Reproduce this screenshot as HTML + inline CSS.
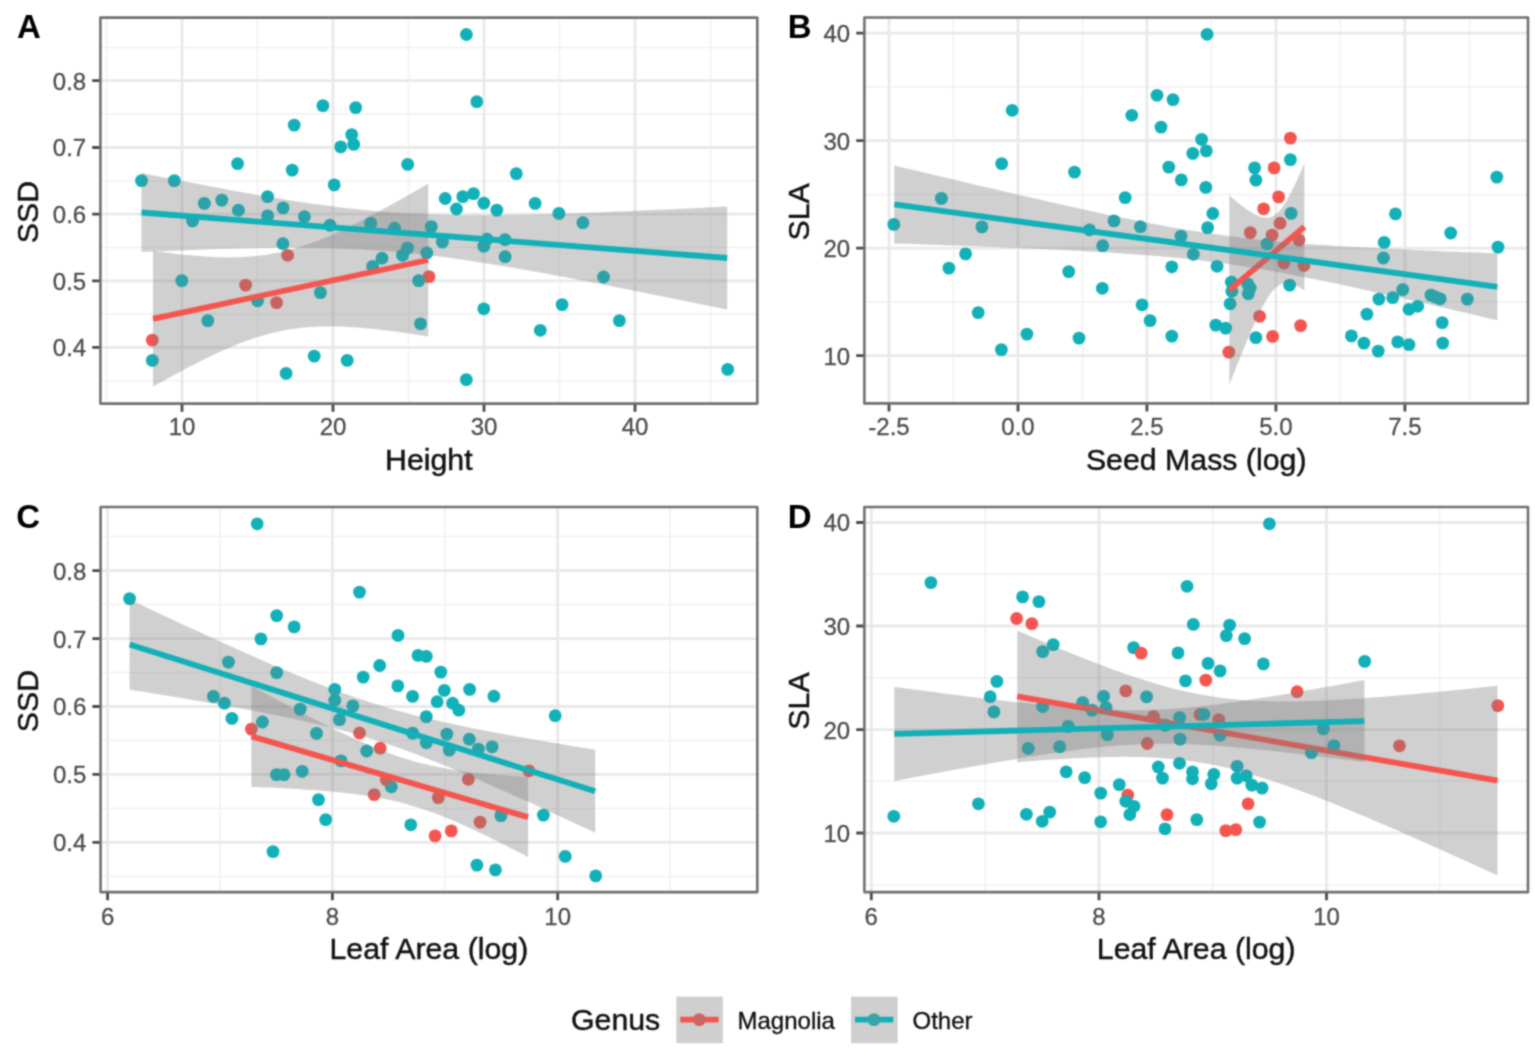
<!DOCTYPE html>
<html lang="en"><head><meta charset="utf-8"><title>Trait relationships by genus</title>
<style>
html,body{margin:0;padding:0;background:#fff;}
svg{display:block;}
text{font-family:"Liberation Sans", Arial, Helvetica, sans-serif;}
.tk{font-size:24px;fill:#4d4d4d;stroke:#4d4d4d;stroke-width:0.3px;}
.ti{font-size:30.3px;fill:#111;stroke:#111;stroke-width:0.45px;}
.tg{font-size:33px;font-weight:bold;fill:#000;}
.lg{font-size:24px;fill:#111;stroke:#111;stroke-width:0.35px;}
</style></head><body>
<svg width="1535" height="1058" viewBox="0 0 1535 1058">

<defs><filter id="soft" x="0" y="0" width="1535" height="1058" filterUnits="userSpaceOnUse" color-interpolation-filters="sRGB"><feConvolveMatrix order="5" kernelMatrix="0.00009 0.00198 0.00548 0.00198 0.00009 0.00198 0.04220 0.11707 0.04220 0.00198 0.00548 0.11707 0.32480 0.11707 0.00548 0.00198 0.04220 0.11707 0.04220 0.00198 0.00009 0.00198 0.00548 0.00198 0.00009" edgeMode="duplicate" preserveAlpha="true"/></filter></defs>
<g filter="url(#soft)">
<rect width="1535" height="1058" fill="#fff"/>
<g id="panelA">
<clipPath id="clipA"><rect x="100.4" y="17.6" width="656.9" height="386.0"/></clipPath>
<g clip-path="url(#clipA)">
<path d="M100.4,47.4H757.3M100.4,114.1H757.3M100.4,180.8H757.3M100.4,247.5H757.3M100.4,314.1H757.3M100.4,380.7H757.3M106.5,17.6V403.6M257.5,17.6V403.6M408.5,17.6V403.6M559.5,17.6V403.6M710.5,17.6V403.6" stroke="#f1f1f1" stroke-width="1.5" fill="none"/>
<path d="M100.4,80.7H757.3M100.4,147.5H757.3M100.4,214.2H757.3M100.4,280.8H757.3M100.4,347.4H757.3M182,17.6V403.6M333,17.6V403.6M484,17.6V403.6M635,17.6V403.6" stroke="#e9e9e9" stroke-width="2.8" fill="none"/>
<g fill="#f4554f"></g>
<g fill="#12b0b8"><circle cx="141.5" cy="180.6" r="6.4"/><circle cx="174.3" cy="180.6" r="6.4"/><circle cx="237.6" cy="163.6" r="6.4"/><circle cx="294.2" cy="125.1" r="6.4"/><circle cx="322.9" cy="105.6" r="6.4"/><circle cx="355.7" cy="107.6" r="6.4"/><circle cx="351.7" cy="134.6" r="6.4"/><circle cx="353.7" cy="144.4" r="6.4"/><circle cx="340.7" cy="146.9" r="6.4"/><circle cx="292.2" cy="170.1" r="6.4"/><circle cx="334.2" cy="184.9" r="6.4"/><circle cx="407.7" cy="164.4" r="6.4"/><circle cx="466.4" cy="34.5" r="6.4"/><circle cx="476.8" cy="101.7" r="6.4"/><circle cx="204.3" cy="203.4" r="6.4"/><circle cx="221.8" cy="200.1" r="6.4"/><circle cx="238.4" cy="210.2" r="6.4"/><circle cx="192.6" cy="220.9" r="6.4"/><circle cx="267.6" cy="196.6" r="6.4"/><circle cx="267.6" cy="215.9" r="6.4"/><circle cx="283.1" cy="207.9" r="6.4"/><circle cx="304.4" cy="216.7" r="6.4"/><circle cx="329.9" cy="225.2" r="6.4"/><circle cx="282.9" cy="243.7" r="6.4"/><circle cx="370.7" cy="223.2" r="6.4"/><circle cx="394.5" cy="228.2" r="6.4"/><circle cx="431.3" cy="226.6" r="6.4"/><circle cx="445.2" cy="198.5" r="6.4"/><circle cx="456.5" cy="209.0" r="6.4"/><circle cx="462.8" cy="196.6" r="6.4"/><circle cx="473.5" cy="193.6" r="6.4"/><circle cx="442.4" cy="242.0" r="6.4"/><circle cx="426.8" cy="253.0" r="6.4"/><circle cx="407.5" cy="248.1" r="6.4"/><circle cx="402.5" cy="255.3" r="6.4"/><circle cx="382.0" cy="258.2" r="6.4"/><circle cx="372.7" cy="266.3" r="6.4"/><circle cx="181.8" cy="280.6" r="6.4"/><circle cx="207.8" cy="320.6" r="6.4"/><circle cx="257.6" cy="300.8" r="6.4"/><circle cx="320.4" cy="292.6" r="6.4"/><circle cx="418.7" cy="280.6" r="6.4"/><circle cx="420.5" cy="323.8" r="6.4"/><circle cx="152.3" cy="360.4" r="6.4"/><circle cx="286.1" cy="373.4" r="6.4"/><circle cx="314.2" cy="356.1" r="6.4"/><circle cx="347.2" cy="360.4" r="6.4"/><circle cx="466.3" cy="379.6" r="6.4"/><circle cx="516.3" cy="173.6" r="6.4"/><circle cx="483.8" cy="203.1" r="6.4"/><circle cx="496.8" cy="210.1" r="6.4"/><circle cx="535.1" cy="203.4" r="6.4"/><circle cx="558.9" cy="213.4" r="6.4"/><circle cx="582.9" cy="222.7" r="6.4"/><circle cx="487.0" cy="239.2" r="6.4"/><circle cx="505.1" cy="239.7" r="6.4"/><circle cx="483.8" cy="246.2" r="6.4"/><circle cx="505.1" cy="256.7" r="6.4"/><circle cx="603.6" cy="277.0" r="6.4"/><circle cx="483.8" cy="308.8" r="6.4"/><circle cx="562.1" cy="304.6" r="6.4"/><circle cx="619.4" cy="320.6" r="6.4"/><circle cx="540.3" cy="330.3" r="6.4"/><circle cx="727.7" cy="369.4" r="6.4"/></g>
<g fill="#f4554f"><circle cx="287.6" cy="255.3" r="6.4"/><circle cx="245.6" cy="285.1" r="6.4"/><circle cx="276.6" cy="302.6" r="6.4"/><circle cx="152.3" cy="340.1" r="6.4"/><circle cx="429.0" cy="276.6" r="6.4"/></g>
<clipPath id="rcAmag"><path d="M153.0,250.8 L157.7,251.5 L162.3,252.1 L167.0,252.7 L171.7,253.3 L176.3,253.9 L181.0,254.4 L185.7,254.9 L190.3,255.3 L195.0,255.8 L199.6,256.1 L204.3,256.5 L209.0,256.8 L213.6,257.0 L218.3,257.2 L223.0,257.3 L227.6,257.4 L232.3,257.3 L237.0,257.3 L241.6,257.1 L246.3,256.8 L251.0,256.5 L255.6,256.1 L260.3,255.5 L264.9,254.9 L269.6,254.2 L274.3,253.3 L278.9,252.4 L283.6,251.3 L288.3,250.2 L292.9,248.9 L297.6,247.6 L302.3,246.1 L306.9,244.6 L311.6,242.9 L316.3,241.2 L320.9,239.4 L325.6,237.4 L330.2,235.5 L334.9,233.4 L339.6,231.3 L344.2,229.2 L348.9,226.9 L353.6,224.6 L358.2,222.3 L362.9,219.9 L367.6,217.5 L372.2,215.1 L376.9,212.6 L381.6,210.1 L386.2,207.5 L390.9,204.9 L395.5,202.3 L400.2,199.7 L404.9,197.0 L409.5,194.4 L414.2,191.7 L418.9,189.0 L423.5,186.2 L428.2,183.5 L428.2,336.5 L423.5,335.7 L418.9,335.0 L414.2,334.3 L409.5,333.6 L404.9,332.9 L400.2,332.3 L395.5,331.6 L390.9,331.0 L386.2,330.4 L381.6,329.9 L376.9,329.3 L372.2,328.8 L367.6,328.4 L362.9,328.0 L358.2,327.6 L353.6,327.2 L348.9,327.0 L344.2,326.7 L339.6,326.6 L334.9,326.4 L330.2,326.4 L325.6,326.4 L320.9,326.5 L316.3,326.7 L311.6,326.9 L306.9,327.3 L302.3,327.7 L297.6,328.2 L292.9,328.9 L288.3,329.6 L283.6,330.4 L278.9,331.4 L274.3,332.4 L269.6,333.6 L264.9,334.9 L260.3,336.2 L255.6,337.7 L251.0,339.2 L246.3,340.9 L241.6,342.6 L237.0,344.5 L232.3,346.4 L227.6,348.3 L223.0,350.4 L218.3,352.5 L213.6,354.7 L209.0,356.9 L204.3,359.2 L199.6,361.5 L195.0,363.9 L190.3,366.3 L185.7,368.8 L181.0,371.3 L176.3,373.8 L171.7,376.3 L167.0,378.9 L162.3,381.5 L157.7,384.1 L153.0,386.8Z"/></clipPath><path d="M153.0,250.8 L157.7,251.5 L162.3,252.1 L167.0,252.7 L171.7,253.3 L176.3,253.9 L181.0,254.4 L185.7,254.9 L190.3,255.3 L195.0,255.8 L199.6,256.1 L204.3,256.5 L209.0,256.8 L213.6,257.0 L218.3,257.2 L223.0,257.3 L227.6,257.4 L232.3,257.3 L237.0,257.3 L241.6,257.1 L246.3,256.8 L251.0,256.5 L255.6,256.1 L260.3,255.5 L264.9,254.9 L269.6,254.2 L274.3,253.3 L278.9,252.4 L283.6,251.3 L288.3,250.2 L292.9,248.9 L297.6,247.6 L302.3,246.1 L306.9,244.6 L311.6,242.9 L316.3,241.2 L320.9,239.4 L325.6,237.4 L330.2,235.5 L334.9,233.4 L339.6,231.3 L344.2,229.2 L348.9,226.9 L353.6,224.6 L358.2,222.3 L362.9,219.9 L367.6,217.5 L372.2,215.1 L376.9,212.6 L381.6,210.1 L386.2,207.5 L390.9,204.9 L395.5,202.3 L400.2,199.7 L404.9,197.0 L409.5,194.4 L414.2,191.7 L418.9,189.0 L423.5,186.2 L428.2,183.5 L428.2,336.5 L423.5,335.7 L418.9,335.0 L414.2,334.3 L409.5,333.6 L404.9,332.9 L400.2,332.3 L395.5,331.6 L390.9,331.0 L386.2,330.4 L381.6,329.9 L376.9,329.3 L372.2,328.8 L367.6,328.4 L362.9,328.0 L358.2,327.6 L353.6,327.2 L348.9,327.0 L344.2,326.7 L339.6,326.6 L334.9,326.4 L330.2,326.4 L325.6,326.4 L320.9,326.5 L316.3,326.7 L311.6,326.9 L306.9,327.3 L302.3,327.7 L297.6,328.2 L292.9,328.9 L288.3,329.6 L283.6,330.4 L278.9,331.4 L274.3,332.4 L269.6,333.6 L264.9,334.9 L260.3,336.2 L255.6,337.7 L251.0,339.2 L246.3,340.9 L241.6,342.6 L237.0,344.5 L232.3,346.4 L227.6,348.3 L223.0,350.4 L218.3,352.5 L213.6,354.7 L209.0,356.9 L204.3,359.2 L199.6,361.5 L195.0,363.9 L190.3,366.3 L185.7,368.8 L181.0,371.3 L176.3,373.8 L171.7,376.3 L167.0,378.9 L162.3,381.5 L157.7,384.1 L153.0,386.8Z" fill="#7e7e7e" fill-opacity="0.36"/>
<g clip-path="url(#rcAmag)" fill="#12b0b8" opacity="0.3"><circle cx="141.5" cy="180.6" r="6.4"/><circle cx="174.3" cy="180.6" r="6.4"/><circle cx="237.6" cy="163.6" r="6.4"/><circle cx="294.2" cy="125.1" r="6.4"/><circle cx="322.9" cy="105.6" r="6.4"/><circle cx="355.7" cy="107.6" r="6.4"/><circle cx="351.7" cy="134.6" r="6.4"/><circle cx="353.7" cy="144.4" r="6.4"/><circle cx="340.7" cy="146.9" r="6.4"/><circle cx="292.2" cy="170.1" r="6.4"/><circle cx="334.2" cy="184.9" r="6.4"/><circle cx="407.7" cy="164.4" r="6.4"/><circle cx="466.4" cy="34.5" r="6.4"/><circle cx="476.8" cy="101.7" r="6.4"/><circle cx="204.3" cy="203.4" r="6.4"/><circle cx="221.8" cy="200.1" r="6.4"/><circle cx="238.4" cy="210.2" r="6.4"/><circle cx="192.6" cy="220.9" r="6.4"/><circle cx="267.6" cy="196.6" r="6.4"/><circle cx="267.6" cy="215.9" r="6.4"/><circle cx="283.1" cy="207.9" r="6.4"/><circle cx="304.4" cy="216.7" r="6.4"/><circle cx="329.9" cy="225.2" r="6.4"/><circle cx="282.9" cy="243.7" r="6.4"/><circle cx="370.7" cy="223.2" r="6.4"/><circle cx="394.5" cy="228.2" r="6.4"/><circle cx="431.3" cy="226.6" r="6.4"/><circle cx="445.2" cy="198.5" r="6.4"/><circle cx="456.5" cy="209.0" r="6.4"/><circle cx="462.8" cy="196.6" r="6.4"/><circle cx="473.5" cy="193.6" r="6.4"/><circle cx="442.4" cy="242.0" r="6.4"/><circle cx="426.8" cy="253.0" r="6.4"/><circle cx="407.5" cy="248.1" r="6.4"/><circle cx="402.5" cy="255.3" r="6.4"/><circle cx="382.0" cy="258.2" r="6.4"/><circle cx="372.7" cy="266.3" r="6.4"/><circle cx="181.8" cy="280.6" r="6.4"/><circle cx="207.8" cy="320.6" r="6.4"/><circle cx="257.6" cy="300.8" r="6.4"/><circle cx="320.4" cy="292.6" r="6.4"/><circle cx="418.7" cy="280.6" r="6.4"/><circle cx="420.5" cy="323.8" r="6.4"/><circle cx="152.3" cy="360.4" r="6.4"/><circle cx="286.1" cy="373.4" r="6.4"/><circle cx="314.2" cy="356.1" r="6.4"/><circle cx="347.2" cy="360.4" r="6.4"/><circle cx="466.3" cy="379.6" r="6.4"/><circle cx="516.3" cy="173.6" r="6.4"/><circle cx="483.8" cy="203.1" r="6.4"/><circle cx="496.8" cy="210.1" r="6.4"/><circle cx="535.1" cy="203.4" r="6.4"/><circle cx="558.9" cy="213.4" r="6.4"/><circle cx="582.9" cy="222.7" r="6.4"/><circle cx="487.0" cy="239.2" r="6.4"/><circle cx="505.1" cy="239.7" r="6.4"/><circle cx="483.8" cy="246.2" r="6.4"/><circle cx="505.1" cy="256.7" r="6.4"/><circle cx="603.6" cy="277.0" r="6.4"/><circle cx="483.8" cy="308.8" r="6.4"/><circle cx="562.1" cy="304.6" r="6.4"/><circle cx="619.4" cy="320.6" r="6.4"/><circle cx="540.3" cy="330.3" r="6.4"/><circle cx="727.7" cy="369.4" r="6.4"/></g>
<line x1="153" y1="318.8" x2="428.2" y2="260" stroke="#f4554f" stroke-width="5.8"/>
<clipPath id="rcAoth"><path d="M141.5,173.0 L151.4,174.9 L161.4,176.9 L171.3,178.9 L181.2,180.8 L191.1,182.7 L201.1,184.6 L211.0,186.5 L220.9,188.3 L230.8,190.2 L240.8,191.9 L250.7,193.7 L260.6,195.4 L270.6,197.1 L280.5,198.8 L290.4,200.4 L300.3,201.9 L310.3,203.4 L320.2,204.8 L330.1,206.1 L340.0,207.4 L350.0,208.5 L359.9,209.6 L369.8,210.6 L379.8,211.5 L389.7,212.3 L399.6,212.9 L409.5,213.5 L419.5,214.0 L429.4,214.4 L439.3,214.8 L449.2,215.0 L459.2,215.2 L469.1,215.2 L479.0,215.3 L488.9,215.2 L498.9,215.2 L508.8,215.0 L518.7,214.9 L528.7,214.7 L538.6,214.4 L548.5,214.2 L558.4,213.9 L568.4,213.5 L578.3,213.2 L588.2,212.8 L598.1,212.4 L608.1,212.0 L618.0,211.6 L627.9,211.2 L637.9,210.7 L647.8,210.3 L657.7,209.8 L667.6,209.4 L677.6,208.9 L687.5,208.4 L697.4,207.9 L707.3,207.4 L717.3,206.9 L727.2,206.4 L727.2,309.6 L717.3,307.6 L707.3,305.5 L697.4,303.5 L687.5,301.5 L677.6,299.4 L667.6,297.4 L657.7,295.4 L647.8,293.4 L637.9,291.4 L627.9,289.4 L618.0,287.4 L608.1,285.5 L598.1,283.5 L588.2,281.6 L578.3,279.7 L568.4,277.8 L558.4,275.9 L548.5,274.1 L538.6,272.3 L528.7,270.5 L518.7,268.7 L508.8,267.0 L498.9,265.4 L488.9,263.7 L479.0,262.2 L469.1,260.6 L459.2,259.2 L449.2,257.8 L439.3,256.5 L429.4,255.3 L419.5,254.1 L409.5,253.1 L399.6,252.2 L389.7,251.3 L379.8,250.5 L369.8,249.9 L359.9,249.3 L350.0,248.9 L340.0,248.5 L330.1,248.2 L320.2,248.0 L310.3,247.9 L300.3,247.8 L290.4,247.8 L280.5,247.8 L270.6,247.9 L260.6,248.1 L250.7,248.3 L240.8,248.5 L230.8,248.7 L220.9,249.0 L211.0,249.3 L201.1,249.7 L191.1,250.0 L181.2,250.4 L171.3,250.8 L161.4,251.2 L151.4,251.6 L141.5,252.0Z"/></clipPath><path d="M141.5,173.0 L151.4,174.9 L161.4,176.9 L171.3,178.9 L181.2,180.8 L191.1,182.7 L201.1,184.6 L211.0,186.5 L220.9,188.3 L230.8,190.2 L240.8,191.9 L250.7,193.7 L260.6,195.4 L270.6,197.1 L280.5,198.8 L290.4,200.4 L300.3,201.9 L310.3,203.4 L320.2,204.8 L330.1,206.1 L340.0,207.4 L350.0,208.5 L359.9,209.6 L369.8,210.6 L379.8,211.5 L389.7,212.3 L399.6,212.9 L409.5,213.5 L419.5,214.0 L429.4,214.4 L439.3,214.8 L449.2,215.0 L459.2,215.2 L469.1,215.2 L479.0,215.3 L488.9,215.2 L498.9,215.2 L508.8,215.0 L518.7,214.9 L528.7,214.7 L538.6,214.4 L548.5,214.2 L558.4,213.9 L568.4,213.5 L578.3,213.2 L588.2,212.8 L598.1,212.4 L608.1,212.0 L618.0,211.6 L627.9,211.2 L637.9,210.7 L647.8,210.3 L657.7,209.8 L667.6,209.4 L677.6,208.9 L687.5,208.4 L697.4,207.9 L707.3,207.4 L717.3,206.9 L727.2,206.4 L727.2,309.6 L717.3,307.6 L707.3,305.5 L697.4,303.5 L687.5,301.5 L677.6,299.4 L667.6,297.4 L657.7,295.4 L647.8,293.4 L637.9,291.4 L627.9,289.4 L618.0,287.4 L608.1,285.5 L598.1,283.5 L588.2,281.6 L578.3,279.7 L568.4,277.8 L558.4,275.9 L548.5,274.1 L538.6,272.3 L528.7,270.5 L518.7,268.7 L508.8,267.0 L498.9,265.4 L488.9,263.7 L479.0,262.2 L469.1,260.6 L459.2,259.2 L449.2,257.8 L439.3,256.5 L429.4,255.3 L419.5,254.1 L409.5,253.1 L399.6,252.2 L389.7,251.3 L379.8,250.5 L369.8,249.9 L359.9,249.3 L350.0,248.9 L340.0,248.5 L330.1,248.2 L320.2,248.0 L310.3,247.9 L300.3,247.8 L290.4,247.8 L280.5,247.8 L270.6,247.9 L260.6,248.1 L250.7,248.3 L240.8,248.5 L230.8,248.7 L220.9,249.0 L211.0,249.3 L201.1,249.7 L191.1,250.0 L181.2,250.4 L171.3,250.8 L161.4,251.2 L151.4,251.6 L141.5,252.0Z" fill="#7e7e7e" fill-opacity="0.36"/>
<g clip-path="url(#rcAoth)" fill="#12b0b8" opacity="0.3"><circle cx="141.5" cy="180.6" r="6.4"/><circle cx="174.3" cy="180.6" r="6.4"/><circle cx="237.6" cy="163.6" r="6.4"/><circle cx="294.2" cy="125.1" r="6.4"/><circle cx="322.9" cy="105.6" r="6.4"/><circle cx="355.7" cy="107.6" r="6.4"/><circle cx="351.7" cy="134.6" r="6.4"/><circle cx="353.7" cy="144.4" r="6.4"/><circle cx="340.7" cy="146.9" r="6.4"/><circle cx="292.2" cy="170.1" r="6.4"/><circle cx="334.2" cy="184.9" r="6.4"/><circle cx="407.7" cy="164.4" r="6.4"/><circle cx="466.4" cy="34.5" r="6.4"/><circle cx="476.8" cy="101.7" r="6.4"/><circle cx="204.3" cy="203.4" r="6.4"/><circle cx="221.8" cy="200.1" r="6.4"/><circle cx="238.4" cy="210.2" r="6.4"/><circle cx="192.6" cy="220.9" r="6.4"/><circle cx="267.6" cy="196.6" r="6.4"/><circle cx="267.6" cy="215.9" r="6.4"/><circle cx="283.1" cy="207.9" r="6.4"/><circle cx="304.4" cy="216.7" r="6.4"/><circle cx="329.9" cy="225.2" r="6.4"/><circle cx="282.9" cy="243.7" r="6.4"/><circle cx="370.7" cy="223.2" r="6.4"/><circle cx="394.5" cy="228.2" r="6.4"/><circle cx="431.3" cy="226.6" r="6.4"/><circle cx="445.2" cy="198.5" r="6.4"/><circle cx="456.5" cy="209.0" r="6.4"/><circle cx="462.8" cy="196.6" r="6.4"/><circle cx="473.5" cy="193.6" r="6.4"/><circle cx="442.4" cy="242.0" r="6.4"/><circle cx="426.8" cy="253.0" r="6.4"/><circle cx="407.5" cy="248.1" r="6.4"/><circle cx="402.5" cy="255.3" r="6.4"/><circle cx="382.0" cy="258.2" r="6.4"/><circle cx="372.7" cy="266.3" r="6.4"/><circle cx="181.8" cy="280.6" r="6.4"/><circle cx="207.8" cy="320.6" r="6.4"/><circle cx="257.6" cy="300.8" r="6.4"/><circle cx="320.4" cy="292.6" r="6.4"/><circle cx="418.7" cy="280.6" r="6.4"/><circle cx="420.5" cy="323.8" r="6.4"/><circle cx="152.3" cy="360.4" r="6.4"/><circle cx="286.1" cy="373.4" r="6.4"/><circle cx="314.2" cy="356.1" r="6.4"/><circle cx="347.2" cy="360.4" r="6.4"/><circle cx="466.3" cy="379.6" r="6.4"/><circle cx="516.3" cy="173.6" r="6.4"/><circle cx="483.8" cy="203.1" r="6.4"/><circle cx="496.8" cy="210.1" r="6.4"/><circle cx="535.1" cy="203.4" r="6.4"/><circle cx="558.9" cy="213.4" r="6.4"/><circle cx="582.9" cy="222.7" r="6.4"/><circle cx="487.0" cy="239.2" r="6.4"/><circle cx="505.1" cy="239.7" r="6.4"/><circle cx="483.8" cy="246.2" r="6.4"/><circle cx="505.1" cy="256.7" r="6.4"/><circle cx="603.6" cy="277.0" r="6.4"/><circle cx="483.8" cy="308.8" r="6.4"/><circle cx="562.1" cy="304.6" r="6.4"/><circle cx="619.4" cy="320.6" r="6.4"/><circle cx="540.3" cy="330.3" r="6.4"/><circle cx="727.7" cy="369.4" r="6.4"/></g>
<line x1="141.5" y1="212.5" x2="727.2" y2="258" stroke="#12b0b8" stroke-width="5.8"/>
</g>
<rect x="100.4" y="17.6" width="656.9" height="386.0" fill="none" stroke="#707070" stroke-width="2.6" stroke-linejoin="round"/>
<path d="M92.2,80.7H99.4M92.2,147.5H99.4M92.2,214.2H99.4M92.2,280.8H99.4M92.2,347.4H99.4M182,404.6V411.8M333,404.6V411.8M484,404.6V411.8M635,404.6V411.8" stroke="#4a4a4a" stroke-width="2.8" fill="none"/>
<text class="tk" x="86.2" y="89.6" text-anchor="end">0.8</text><text class="tk" x="86.2" y="156.4" text-anchor="end">0.7</text><text class="tk" x="86.2" y="223.1" text-anchor="end">0.6</text><text class="tk" x="86.2" y="289.7" text-anchor="end">0.5</text><text class="tk" x="86.2" y="356.3" text-anchor="end">0.4</text><text class="tk" x="182" y="435.3" text-anchor="middle">10</text><text class="tk" x="333" y="435.3" text-anchor="middle">20</text><text class="tk" x="484" y="435.3" text-anchor="middle">30</text><text class="tk" x="635" y="435.3" text-anchor="middle">40</text>
<text class="ti" x="428.8" y="470.0" text-anchor="middle">Height</text>
<text class="ti" transform="translate(38.3,212.1) rotate(-90)" text-anchor="middle">SSD</text>
<text class="tg" x="17.1" y="38.2">A</text>
</g>
<g id="panelB">
<clipPath id="clipB"><rect x="864.4" y="17.5" width="663.6" height="385.9"/></clipPath>
<g clip-path="url(#clipB)">
<path d="M864.4,86.8H1528M864.4,194.4H1528M864.4,301.9H1528M953.5,17.5V403.4M1082.5,17.5V403.4M1211.4,17.5V403.4M1340.4,17.5V403.4M1469.6,17.5V403.4" stroke="#f1f1f1" stroke-width="1.5" fill="none"/>
<path d="M864.4,33.1H1528M864.4,140.6H1528M864.4,248.1H1528M864.4,355.6H1528M889.0,17.5V403.4M1018,17.5V403.4M1146.9,17.5V403.4M1275.9,17.5V403.4M1404.9,17.5V403.4" stroke="#e9e9e9" stroke-width="2.8" fill="none"/>
<g fill="#f4554f"></g>
<g fill="#12b0b8"><circle cx="893.8" cy="224.4" r="6.4"/><circle cx="941.4" cy="198.4" r="6.4"/><circle cx="981.9" cy="226.9" r="6.4"/><circle cx="1001.7" cy="163.6" r="6.4"/><circle cx="1012.2" cy="110.3" r="6.4"/><circle cx="965.6" cy="253.9" r="6.4"/><circle cx="948.9" cy="268.1" r="6.4"/><circle cx="1074.5" cy="172.1" r="6.4"/><circle cx="1131.8" cy="115.3" r="6.4"/><circle cx="1125.2" cy="197.6" r="6.4"/><circle cx="1114.0" cy="220.9" r="6.4"/><circle cx="1089.5" cy="229.8" r="6.4"/><circle cx="1102.7" cy="245.7" r="6.4"/><circle cx="1140.4" cy="226.7" r="6.4"/><circle cx="978.2" cy="312.6" r="6.4"/><circle cx="1001.4" cy="349.6" r="6.4"/><circle cx="1026.9" cy="334.1" r="6.4"/><circle cx="1068.7" cy="271.6" r="6.4"/><circle cx="1079.0" cy="338.1" r="6.4"/><circle cx="1102.3" cy="288.3" r="6.4"/><circle cx="1142.1" cy="304.8" r="6.4"/><circle cx="1150.1" cy="320.6" r="6.4"/><circle cx="1207.1" cy="34.3" r="6.4"/><circle cx="1157.0" cy="95.3" r="6.4"/><circle cx="1173.0" cy="99.6" r="6.4"/><circle cx="1161.0" cy="127.1" r="6.4"/><circle cx="1201.6" cy="139.4" r="6.4"/><circle cx="1206.3" cy="150.9" r="6.4"/><circle cx="1192.8" cy="153.4" r="6.4"/><circle cx="1168.8" cy="167.1" r="6.4"/><circle cx="1181.3" cy="179.9" r="6.4"/><circle cx="1205.8" cy="187.4" r="6.4"/><circle cx="1212.8" cy="213.5" r="6.4"/><circle cx="1207.6" cy="227.6" r="6.4"/><circle cx="1181.0" cy="236.1" r="6.4"/><circle cx="1193.3" cy="254.3" r="6.4"/><circle cx="1171.8" cy="266.8" r="6.4"/><circle cx="1217.1" cy="266.3" r="6.4"/><circle cx="1254.6" cy="167.9" r="6.4"/><circle cx="1255.9" cy="180.1" r="6.4"/><circle cx="1290.4" cy="159.6" r="6.4"/><circle cx="1291.1" cy="213.4" r="6.4"/><circle cx="1267.1" cy="243.9" r="6.4"/><circle cx="1395.5" cy="213.9" r="6.4"/><circle cx="1384.2" cy="242.4" r="6.4"/><circle cx="1383.4" cy="258.0" r="6.4"/><circle cx="1450.7" cy="233.0" r="6.4"/><circle cx="1496.8" cy="177.1" r="6.4"/><circle cx="1498.0" cy="247.1" r="6.4"/><circle cx="1171.8" cy="336.1" r="6.4"/><circle cx="1215.8" cy="325.1" r="6.4"/><circle cx="1225.6" cy="328.1" r="6.4"/><circle cx="1230.1" cy="303.8" r="6.4"/><circle cx="1231.8" cy="291.3" r="6.4"/><circle cx="1231.3" cy="282.1" r="6.4"/><circle cx="1247.6" cy="283.8" r="6.4"/><circle cx="1250.1" cy="288.1" r="6.4"/><circle cx="1248.3" cy="293.8" r="6.4"/><circle cx="1255.9" cy="337.6" r="6.4"/><circle cx="1289.6" cy="285.1" r="6.4"/><circle cx="1402.7" cy="289.6" r="6.4"/><circle cx="1392.7" cy="297.6" r="6.4"/><circle cx="1378.9" cy="299.1" r="6.4"/><circle cx="1366.9" cy="314.1" r="6.4"/><circle cx="1409.0" cy="309.3" r="6.4"/><circle cx="1417.7" cy="306.3" r="6.4"/><circle cx="1431.0" cy="295.1" r="6.4"/><circle cx="1440.2" cy="298.8" r="6.4"/><circle cx="1435.7" cy="297.1" r="6.4"/><circle cx="1467.3" cy="299.1" r="6.4"/><circle cx="1442.2" cy="322.6" r="6.4"/><circle cx="1442.7" cy="343.1" r="6.4"/><circle cx="1351.4" cy="335.9" r="6.4"/><circle cx="1363.9" cy="343.1" r="6.4"/><circle cx="1378.2" cy="351.1" r="6.4"/><circle cx="1397.7" cy="341.9" r="6.4"/><circle cx="1409.0" cy="344.6" r="6.4"/></g>
<g fill="#f4554f"><circle cx="1290.4" cy="138.1" r="6.4"/><circle cx="1274.1" cy="167.9" r="6.4"/><circle cx="1278.6" cy="196.9" r="6.4"/><circle cx="1263.6" cy="208.8" r="6.4"/><circle cx="1280.1" cy="223.2" r="6.4"/><circle cx="1250.3" cy="232.6" r="6.4"/><circle cx="1272.1" cy="235.1" r="6.4"/><circle cx="1298.9" cy="240.1" r="6.4"/><circle cx="1283.9" cy="263.0" r="6.4"/><circle cx="1303.9" cy="265.5" r="6.4"/><circle cx="1259.6" cy="316.3" r="6.4"/><circle cx="1300.6" cy="325.6" r="6.4"/><circle cx="1272.6" cy="336.4" r="6.4"/><circle cx="1228.8" cy="352.1" r="6.4"/></g>
<clipPath id="rcBmag"><path d="M1229.3,195.4 L1230.6,196.5 L1231.8,197.6 L1233.1,198.7 L1234.4,199.7 L1235.7,200.8 L1236.9,201.8 L1238.2,202.9 L1239.5,203.9 L1240.8,204.9 L1242.0,205.9 L1243.3,206.8 L1244.6,207.8 L1245.8,208.7 L1247.1,209.6 L1248.4,210.5 L1249.7,211.3 L1250.9,212.1 L1252.2,212.9 L1253.5,213.6 L1254.8,214.3 L1256.0,215.0 L1257.3,215.6 L1258.6,216.1 L1259.8,216.6 L1261.1,217.0 L1262.4,217.3 L1263.7,217.6 L1264.9,217.7 L1266.2,217.8 L1267.5,217.7 L1268.8,217.6 L1270.0,217.3 L1271.3,216.9 L1272.6,216.3 L1273.9,215.6 L1275.1,214.8 L1276.4,213.8 L1277.7,212.7 L1278.9,211.4 L1280.2,209.9 L1281.5,208.3 L1282.8,206.6 L1284.0,204.7 L1285.3,202.8 L1286.6,200.7 L1287.9,198.4 L1289.1,196.1 L1290.4,193.7 L1291.7,191.3 L1292.9,188.7 L1294.2,186.1 L1295.5,183.4 L1296.8,180.7 L1298.0,177.9 L1299.3,175.0 L1300.6,172.2 L1301.9,169.2 L1303.1,166.3 L1304.4,163.3 L1304.4,290.3 L1303.1,289.5 L1301.9,288.7 L1300.6,287.9 L1299.3,287.1 L1298.0,286.4 L1296.8,285.8 L1295.5,285.2 L1294.2,284.7 L1292.9,284.2 L1291.7,283.8 L1290.4,283.5 L1289.1,283.2 L1287.9,283.0 L1286.6,283.0 L1285.3,283.0 L1284.0,283.2 L1282.8,283.5 L1281.5,283.9 L1280.2,284.5 L1278.9,285.2 L1277.7,286.0 L1276.4,287.0 L1275.1,288.2 L1273.9,289.5 L1272.6,290.9 L1271.3,292.5 L1270.0,294.2 L1268.8,296.1 L1267.5,298.1 L1266.2,300.2 L1264.9,302.4 L1263.7,304.7 L1262.4,307.1 L1261.1,309.6 L1259.8,312.1 L1258.6,314.7 L1257.3,317.4 L1256.0,320.2 L1254.8,323.0 L1253.5,325.8 L1252.2,328.7 L1250.9,331.6 L1249.7,334.6 L1248.4,337.5 L1247.1,340.6 L1245.8,343.6 L1244.6,346.7 L1243.3,349.8 L1242.0,352.9 L1240.8,356.0 L1239.5,359.1 L1238.2,362.3 L1236.9,365.5 L1235.7,368.7 L1234.4,371.9 L1233.1,375.1 L1231.8,378.3 L1230.6,381.6 L1229.3,384.8Z"/></clipPath><path d="M1229.3,195.4 L1230.6,196.5 L1231.8,197.6 L1233.1,198.7 L1234.4,199.7 L1235.7,200.8 L1236.9,201.8 L1238.2,202.9 L1239.5,203.9 L1240.8,204.9 L1242.0,205.9 L1243.3,206.8 L1244.6,207.8 L1245.8,208.7 L1247.1,209.6 L1248.4,210.5 L1249.7,211.3 L1250.9,212.1 L1252.2,212.9 L1253.5,213.6 L1254.8,214.3 L1256.0,215.0 L1257.3,215.6 L1258.6,216.1 L1259.8,216.6 L1261.1,217.0 L1262.4,217.3 L1263.7,217.6 L1264.9,217.7 L1266.2,217.8 L1267.5,217.7 L1268.8,217.6 L1270.0,217.3 L1271.3,216.9 L1272.6,216.3 L1273.9,215.6 L1275.1,214.8 L1276.4,213.8 L1277.7,212.7 L1278.9,211.4 L1280.2,209.9 L1281.5,208.3 L1282.8,206.6 L1284.0,204.7 L1285.3,202.8 L1286.6,200.7 L1287.9,198.4 L1289.1,196.1 L1290.4,193.7 L1291.7,191.3 L1292.9,188.7 L1294.2,186.1 L1295.5,183.4 L1296.8,180.7 L1298.0,177.9 L1299.3,175.0 L1300.6,172.2 L1301.9,169.2 L1303.1,166.3 L1304.4,163.3 L1304.4,290.3 L1303.1,289.5 L1301.9,288.7 L1300.6,287.9 L1299.3,287.1 L1298.0,286.4 L1296.8,285.8 L1295.5,285.2 L1294.2,284.7 L1292.9,284.2 L1291.7,283.8 L1290.4,283.5 L1289.1,283.2 L1287.9,283.0 L1286.6,283.0 L1285.3,283.0 L1284.0,283.2 L1282.8,283.5 L1281.5,283.9 L1280.2,284.5 L1278.9,285.2 L1277.7,286.0 L1276.4,287.0 L1275.1,288.2 L1273.9,289.5 L1272.6,290.9 L1271.3,292.5 L1270.0,294.2 L1268.8,296.1 L1267.5,298.1 L1266.2,300.2 L1264.9,302.4 L1263.7,304.7 L1262.4,307.1 L1261.1,309.6 L1259.8,312.1 L1258.6,314.7 L1257.3,317.4 L1256.0,320.2 L1254.8,323.0 L1253.5,325.8 L1252.2,328.7 L1250.9,331.6 L1249.7,334.6 L1248.4,337.5 L1247.1,340.6 L1245.8,343.6 L1244.6,346.7 L1243.3,349.8 L1242.0,352.9 L1240.8,356.0 L1239.5,359.1 L1238.2,362.3 L1236.9,365.5 L1235.7,368.7 L1234.4,371.9 L1233.1,375.1 L1231.8,378.3 L1230.6,381.6 L1229.3,384.8Z" fill="#7e7e7e" fill-opacity="0.36"/>
<g clip-path="url(#rcBmag)" fill="#12b0b8" opacity="0.3"><circle cx="893.8" cy="224.4" r="6.4"/><circle cx="941.4" cy="198.4" r="6.4"/><circle cx="981.9" cy="226.9" r="6.4"/><circle cx="1001.7" cy="163.6" r="6.4"/><circle cx="1012.2" cy="110.3" r="6.4"/><circle cx="965.6" cy="253.9" r="6.4"/><circle cx="948.9" cy="268.1" r="6.4"/><circle cx="1074.5" cy="172.1" r="6.4"/><circle cx="1131.8" cy="115.3" r="6.4"/><circle cx="1125.2" cy="197.6" r="6.4"/><circle cx="1114.0" cy="220.9" r="6.4"/><circle cx="1089.5" cy="229.8" r="6.4"/><circle cx="1102.7" cy="245.7" r="6.4"/><circle cx="1140.4" cy="226.7" r="6.4"/><circle cx="978.2" cy="312.6" r="6.4"/><circle cx="1001.4" cy="349.6" r="6.4"/><circle cx="1026.9" cy="334.1" r="6.4"/><circle cx="1068.7" cy="271.6" r="6.4"/><circle cx="1079.0" cy="338.1" r="6.4"/><circle cx="1102.3" cy="288.3" r="6.4"/><circle cx="1142.1" cy="304.8" r="6.4"/><circle cx="1150.1" cy="320.6" r="6.4"/><circle cx="1207.1" cy="34.3" r="6.4"/><circle cx="1157.0" cy="95.3" r="6.4"/><circle cx="1173.0" cy="99.6" r="6.4"/><circle cx="1161.0" cy="127.1" r="6.4"/><circle cx="1201.6" cy="139.4" r="6.4"/><circle cx="1206.3" cy="150.9" r="6.4"/><circle cx="1192.8" cy="153.4" r="6.4"/><circle cx="1168.8" cy="167.1" r="6.4"/><circle cx="1181.3" cy="179.9" r="6.4"/><circle cx="1205.8" cy="187.4" r="6.4"/><circle cx="1212.8" cy="213.5" r="6.4"/><circle cx="1207.6" cy="227.6" r="6.4"/><circle cx="1181.0" cy="236.1" r="6.4"/><circle cx="1193.3" cy="254.3" r="6.4"/><circle cx="1171.8" cy="266.8" r="6.4"/><circle cx="1217.1" cy="266.3" r="6.4"/><circle cx="1254.6" cy="167.9" r="6.4"/><circle cx="1255.9" cy="180.1" r="6.4"/><circle cx="1290.4" cy="159.6" r="6.4"/><circle cx="1291.1" cy="213.4" r="6.4"/><circle cx="1267.1" cy="243.9" r="6.4"/><circle cx="1395.5" cy="213.9" r="6.4"/><circle cx="1384.2" cy="242.4" r="6.4"/><circle cx="1383.4" cy="258.0" r="6.4"/><circle cx="1450.7" cy="233.0" r="6.4"/><circle cx="1496.8" cy="177.1" r="6.4"/><circle cx="1498.0" cy="247.1" r="6.4"/><circle cx="1171.8" cy="336.1" r="6.4"/><circle cx="1215.8" cy="325.1" r="6.4"/><circle cx="1225.6" cy="328.1" r="6.4"/><circle cx="1230.1" cy="303.8" r="6.4"/><circle cx="1231.8" cy="291.3" r="6.4"/><circle cx="1231.3" cy="282.1" r="6.4"/><circle cx="1247.6" cy="283.8" r="6.4"/><circle cx="1250.1" cy="288.1" r="6.4"/><circle cx="1248.3" cy="293.8" r="6.4"/><circle cx="1255.9" cy="337.6" r="6.4"/><circle cx="1289.6" cy="285.1" r="6.4"/><circle cx="1402.7" cy="289.6" r="6.4"/><circle cx="1392.7" cy="297.6" r="6.4"/><circle cx="1378.9" cy="299.1" r="6.4"/><circle cx="1366.9" cy="314.1" r="6.4"/><circle cx="1409.0" cy="309.3" r="6.4"/><circle cx="1417.7" cy="306.3" r="6.4"/><circle cx="1431.0" cy="295.1" r="6.4"/><circle cx="1440.2" cy="298.8" r="6.4"/><circle cx="1435.7" cy="297.1" r="6.4"/><circle cx="1467.3" cy="299.1" r="6.4"/><circle cx="1442.2" cy="322.6" r="6.4"/><circle cx="1442.7" cy="343.1" r="6.4"/><circle cx="1351.4" cy="335.9" r="6.4"/><circle cx="1363.9" cy="343.1" r="6.4"/><circle cx="1378.2" cy="351.1" r="6.4"/><circle cx="1397.7" cy="341.9" r="6.4"/><circle cx="1409.0" cy="344.6" r="6.4"/></g>
<line x1="1229.3" y1="290.1" x2="1304.4" y2="226.8" stroke="#f4554f" stroke-width="5.8"/>
<clipPath id="rcBoth"><path d="M894.3,165.4 L904.5,167.9 L914.7,170.3 L925.0,172.7 L935.2,175.2 L945.4,177.6 L955.6,180.0 L965.8,182.4 L976.1,184.9 L986.3,187.3 L996.5,189.6 L1006.7,192.0 L1016.9,194.4 L1027.2,196.8 L1037.4,199.1 L1047.6,201.4 L1057.8,203.7 L1068.0,206.0 L1078.3,208.3 L1088.5,210.5 L1098.7,212.7 L1108.9,214.9 L1119.1,217.0 L1129.4,219.1 L1139.6,221.2 L1149.8,223.2 L1160.0,225.1 L1170.2,226.9 L1180.5,228.7 L1190.7,230.5 L1200.9,232.1 L1211.1,233.6 L1221.4,235.1 L1231.6,236.5 L1241.8,237.7 L1252.0,238.9 L1262.2,240.0 L1272.5,241.0 L1282.7,242.0 L1292.9,242.9 L1303.1,243.7 L1313.3,244.4 L1323.6,245.1 L1333.8,245.8 L1344.0,246.4 L1354.2,247.0 L1364.4,247.6 L1374.7,248.1 L1384.9,248.7 L1395.1,249.1 L1405.3,249.6 L1415.5,250.1 L1425.8,250.5 L1436.0,250.9 L1446.2,251.4 L1456.4,251.8 L1466.6,252.2 L1476.9,252.6 L1487.1,252.9 L1497.3,253.3 L1497.3,320.3 L1487.1,317.9 L1476.9,315.5 L1466.6,313.1 L1456.4,310.7 L1446.2,308.3 L1436.0,305.9 L1425.8,303.5 L1415.5,301.2 L1405.3,298.8 L1395.1,296.5 L1384.9,294.2 L1374.7,291.9 L1364.4,289.7 L1354.2,287.5 L1344.0,285.3 L1333.8,283.1 L1323.6,281.0 L1313.3,278.9 L1303.1,276.9 L1292.9,274.9 L1282.7,273.0 L1272.5,271.1 L1262.2,269.3 L1252.0,267.7 L1241.8,266.0 L1231.6,264.5 L1221.4,263.1 L1211.1,261.8 L1200.9,260.5 L1190.7,259.3 L1180.5,258.3 L1170.2,257.3 L1160.0,256.3 L1149.8,255.5 L1139.6,254.7 L1129.4,253.9 L1119.1,253.2 L1108.9,252.6 L1098.7,252.0 L1088.5,251.4 L1078.3,250.8 L1068.0,250.3 L1057.8,249.8 L1047.6,249.3 L1037.4,248.8 L1027.2,248.4 L1016.9,247.9 L1006.7,247.5 L996.5,247.1 L986.3,246.7 L976.1,246.3 L965.8,245.9 L955.6,245.5 L945.4,245.2 L935.2,244.8 L925.0,244.4 L914.7,244.1 L904.5,243.7 L894.3,243.4Z"/></clipPath><path d="M894.3,165.4 L904.5,167.9 L914.7,170.3 L925.0,172.7 L935.2,175.2 L945.4,177.6 L955.6,180.0 L965.8,182.4 L976.1,184.9 L986.3,187.3 L996.5,189.6 L1006.7,192.0 L1016.9,194.4 L1027.2,196.8 L1037.4,199.1 L1047.6,201.4 L1057.8,203.7 L1068.0,206.0 L1078.3,208.3 L1088.5,210.5 L1098.7,212.7 L1108.9,214.9 L1119.1,217.0 L1129.4,219.1 L1139.6,221.2 L1149.8,223.2 L1160.0,225.1 L1170.2,226.9 L1180.5,228.7 L1190.7,230.5 L1200.9,232.1 L1211.1,233.6 L1221.4,235.1 L1231.6,236.5 L1241.8,237.7 L1252.0,238.9 L1262.2,240.0 L1272.5,241.0 L1282.7,242.0 L1292.9,242.9 L1303.1,243.7 L1313.3,244.4 L1323.6,245.1 L1333.8,245.8 L1344.0,246.4 L1354.2,247.0 L1364.4,247.6 L1374.7,248.1 L1384.9,248.7 L1395.1,249.1 L1405.3,249.6 L1415.5,250.1 L1425.8,250.5 L1436.0,250.9 L1446.2,251.4 L1456.4,251.8 L1466.6,252.2 L1476.9,252.6 L1487.1,252.9 L1497.3,253.3 L1497.3,320.3 L1487.1,317.9 L1476.9,315.5 L1466.6,313.1 L1456.4,310.7 L1446.2,308.3 L1436.0,305.9 L1425.8,303.5 L1415.5,301.2 L1405.3,298.8 L1395.1,296.5 L1384.9,294.2 L1374.7,291.9 L1364.4,289.7 L1354.2,287.5 L1344.0,285.3 L1333.8,283.1 L1323.6,281.0 L1313.3,278.9 L1303.1,276.9 L1292.9,274.9 L1282.7,273.0 L1272.5,271.1 L1262.2,269.3 L1252.0,267.7 L1241.8,266.0 L1231.6,264.5 L1221.4,263.1 L1211.1,261.8 L1200.9,260.5 L1190.7,259.3 L1180.5,258.3 L1170.2,257.3 L1160.0,256.3 L1149.8,255.5 L1139.6,254.7 L1129.4,253.9 L1119.1,253.2 L1108.9,252.6 L1098.7,252.0 L1088.5,251.4 L1078.3,250.8 L1068.0,250.3 L1057.8,249.8 L1047.6,249.3 L1037.4,248.8 L1027.2,248.4 L1016.9,247.9 L1006.7,247.5 L996.5,247.1 L986.3,246.7 L976.1,246.3 L965.8,245.9 L955.6,245.5 L945.4,245.2 L935.2,244.8 L925.0,244.4 L914.7,244.1 L904.5,243.7 L894.3,243.4Z" fill="#7e7e7e" fill-opacity="0.36"/>
<g clip-path="url(#rcBoth)" fill="#12b0b8" opacity="0.3"><circle cx="893.8" cy="224.4" r="6.4"/><circle cx="941.4" cy="198.4" r="6.4"/><circle cx="981.9" cy="226.9" r="6.4"/><circle cx="1001.7" cy="163.6" r="6.4"/><circle cx="1012.2" cy="110.3" r="6.4"/><circle cx="965.6" cy="253.9" r="6.4"/><circle cx="948.9" cy="268.1" r="6.4"/><circle cx="1074.5" cy="172.1" r="6.4"/><circle cx="1131.8" cy="115.3" r="6.4"/><circle cx="1125.2" cy="197.6" r="6.4"/><circle cx="1114.0" cy="220.9" r="6.4"/><circle cx="1089.5" cy="229.8" r="6.4"/><circle cx="1102.7" cy="245.7" r="6.4"/><circle cx="1140.4" cy="226.7" r="6.4"/><circle cx="978.2" cy="312.6" r="6.4"/><circle cx="1001.4" cy="349.6" r="6.4"/><circle cx="1026.9" cy="334.1" r="6.4"/><circle cx="1068.7" cy="271.6" r="6.4"/><circle cx="1079.0" cy="338.1" r="6.4"/><circle cx="1102.3" cy="288.3" r="6.4"/><circle cx="1142.1" cy="304.8" r="6.4"/><circle cx="1150.1" cy="320.6" r="6.4"/><circle cx="1207.1" cy="34.3" r="6.4"/><circle cx="1157.0" cy="95.3" r="6.4"/><circle cx="1173.0" cy="99.6" r="6.4"/><circle cx="1161.0" cy="127.1" r="6.4"/><circle cx="1201.6" cy="139.4" r="6.4"/><circle cx="1206.3" cy="150.9" r="6.4"/><circle cx="1192.8" cy="153.4" r="6.4"/><circle cx="1168.8" cy="167.1" r="6.4"/><circle cx="1181.3" cy="179.9" r="6.4"/><circle cx="1205.8" cy="187.4" r="6.4"/><circle cx="1212.8" cy="213.5" r="6.4"/><circle cx="1207.6" cy="227.6" r="6.4"/><circle cx="1181.0" cy="236.1" r="6.4"/><circle cx="1193.3" cy="254.3" r="6.4"/><circle cx="1171.8" cy="266.8" r="6.4"/><circle cx="1217.1" cy="266.3" r="6.4"/><circle cx="1254.6" cy="167.9" r="6.4"/><circle cx="1255.9" cy="180.1" r="6.4"/><circle cx="1290.4" cy="159.6" r="6.4"/><circle cx="1291.1" cy="213.4" r="6.4"/><circle cx="1267.1" cy="243.9" r="6.4"/><circle cx="1395.5" cy="213.9" r="6.4"/><circle cx="1384.2" cy="242.4" r="6.4"/><circle cx="1383.4" cy="258.0" r="6.4"/><circle cx="1450.7" cy="233.0" r="6.4"/><circle cx="1496.8" cy="177.1" r="6.4"/><circle cx="1498.0" cy="247.1" r="6.4"/><circle cx="1171.8" cy="336.1" r="6.4"/><circle cx="1215.8" cy="325.1" r="6.4"/><circle cx="1225.6" cy="328.1" r="6.4"/><circle cx="1230.1" cy="303.8" r="6.4"/><circle cx="1231.8" cy="291.3" r="6.4"/><circle cx="1231.3" cy="282.1" r="6.4"/><circle cx="1247.6" cy="283.8" r="6.4"/><circle cx="1250.1" cy="288.1" r="6.4"/><circle cx="1248.3" cy="293.8" r="6.4"/><circle cx="1255.9" cy="337.6" r="6.4"/><circle cx="1289.6" cy="285.1" r="6.4"/><circle cx="1402.7" cy="289.6" r="6.4"/><circle cx="1392.7" cy="297.6" r="6.4"/><circle cx="1378.9" cy="299.1" r="6.4"/><circle cx="1366.9" cy="314.1" r="6.4"/><circle cx="1409.0" cy="309.3" r="6.4"/><circle cx="1417.7" cy="306.3" r="6.4"/><circle cx="1431.0" cy="295.1" r="6.4"/><circle cx="1440.2" cy="298.8" r="6.4"/><circle cx="1435.7" cy="297.1" r="6.4"/><circle cx="1467.3" cy="299.1" r="6.4"/><circle cx="1442.2" cy="322.6" r="6.4"/><circle cx="1442.7" cy="343.1" r="6.4"/><circle cx="1351.4" cy="335.9" r="6.4"/><circle cx="1363.9" cy="343.1" r="6.4"/><circle cx="1378.2" cy="351.1" r="6.4"/><circle cx="1397.7" cy="341.9" r="6.4"/><circle cx="1409.0" cy="344.6" r="6.4"/></g>
<line x1="894.3" y1="204.4" x2="1497.3" y2="286.8" stroke="#12b0b8" stroke-width="5.8"/>
</g>
<rect x="864.4" y="17.5" width="663.6" height="385.9" fill="none" stroke="#707070" stroke-width="2.6" stroke-linejoin="round"/>
<path d="M856.2,33.1H863.4M856.2,140.6H863.4M856.2,248.1H863.4M856.2,355.6H863.4M889.0,404.4V411.6M1018,404.4V411.6M1146.9,404.4V411.6M1275.9,404.4V411.6M1404.9,404.4V411.6" stroke="#4a4a4a" stroke-width="2.8" fill="none"/>
<text class="tk" x="850.2" y="42.0" text-anchor="end">40</text><text class="tk" x="850.2" y="149.5" text-anchor="end">30</text><text class="tk" x="850.2" y="257.0" text-anchor="end">20</text><text class="tk" x="850.2" y="364.5" text-anchor="end">10</text><text class="tk" x="889.0" y="435.1" text-anchor="middle">-2.5</text><text class="tk" x="1018" y="435.1" text-anchor="middle">0.0</text><text class="tk" x="1146.9" y="435.1" text-anchor="middle">2.5</text><text class="tk" x="1275.9" y="435.1" text-anchor="middle">5.0</text><text class="tk" x="1404.9" y="435.1" text-anchor="middle">7.5</text>
<text class="ti" x="1196.2" y="469.8" text-anchor="middle">Seed Mass (log)</text>
<text class="ti" transform="translate(808.5,211.9) rotate(-90)" text-anchor="middle">SLA</text>
<text class="tg" x="787.7" y="38.1">B</text>
</g>
<g id="panelC">
<clipPath id="clipC"><rect x="100.6" y="507" width="656.7" height="385.1"/></clipPath>
<g clip-path="url(#clipC)">
<path d="M100.6,536.6H757.3M100.6,604.6H757.3M100.6,672.5H757.3M100.6,740.4H757.3M100.6,808.4H757.3M100.6,876.4H757.3M220.1,507V892.1M445.1,507V892.1M669.9,507V892.1" stroke="#f1f1f1" stroke-width="1.5" fill="none"/>
<path d="M100.6,570.6H757.3M100.6,638.6H757.3M100.6,706.5H757.3M100.6,774.4H757.3M100.6,842.4H757.3M107.6,507V892.1M332.4,507V892.1M557.7,507V892.1" stroke="#e9e9e9" stroke-width="2.8" fill="none"/>
<g fill="#f4554f"></g>
<g fill="#12b0b8"><circle cx="129.6" cy="598.6" r="6.4"/><circle cx="257.2" cy="523.8" r="6.4"/><circle cx="359.5" cy="592.1" r="6.4"/><circle cx="276.7" cy="615.6" r="6.4"/><circle cx="294.2" cy="626.9" r="6.4"/><circle cx="260.9" cy="638.9" r="6.4"/><circle cx="228.4" cy="662.1" r="6.4"/><circle cx="276.7" cy="672.6" r="6.4"/><circle cx="379.7" cy="665.5" r="6.4"/><circle cx="363.2" cy="677.1" r="6.4"/><circle cx="334.8" cy="689.4" r="6.4"/><circle cx="334.8" cy="700.2" r="6.4"/><circle cx="352.9" cy="705.9" r="6.4"/><circle cx="213.4" cy="696.4" r="6.4"/><circle cx="224.4" cy="703.2" r="6.4"/><circle cx="231.9" cy="718.4" r="6.4"/><circle cx="300.2" cy="709.1" r="6.4"/><circle cx="339.5" cy="719.7" r="6.4"/><circle cx="262.4" cy="722.0" r="6.4"/><circle cx="316.5" cy="733.4" r="6.4"/><circle cx="366.7" cy="751.0" r="6.4"/><circle cx="341.0" cy="760.8" r="6.4"/><circle cx="302.2" cy="771.3" r="6.4"/><circle cx="276.5" cy="774.6" r="6.4"/><circle cx="284.0" cy="774.6" r="6.4"/><circle cx="318.5" cy="799.6" r="6.4"/><circle cx="325.7" cy="819.6" r="6.4"/><circle cx="273.0" cy="851.6" r="6.4"/><circle cx="398.0" cy="635.4" r="6.4"/><circle cx="418.1" cy="655.4" r="6.4"/><circle cx="426.3" cy="656.4" r="6.4"/><circle cx="440.8" cy="672.1" r="6.4"/><circle cx="397.8" cy="685.9" r="6.4"/><circle cx="412.6" cy="696.4" r="6.4"/><circle cx="444.3" cy="690.4" r="6.4"/><circle cx="437.1" cy="701.7" r="6.4"/><circle cx="469.6" cy="689.4" r="6.4"/><circle cx="493.9" cy="696.2" r="6.4"/><circle cx="452.6" cy="703.2" r="6.4"/><circle cx="458.8" cy="710.2" r="6.4"/><circle cx="426.3" cy="716.6" r="6.4"/><circle cx="555.2" cy="715.7" r="6.4"/><circle cx="412.6" cy="733.1" r="6.4"/><circle cx="446.8" cy="734.1" r="6.4"/><circle cx="426.3" cy="742.8" r="6.4"/><circle cx="469.3" cy="739.2" r="6.4"/><circle cx="492.1" cy="746.8" r="6.4"/><circle cx="478.4" cy="749.1" r="6.4"/><circle cx="449.3" cy="750.1" r="6.4"/><circle cx="391.3" cy="786.8" r="6.4"/><circle cx="500.9" cy="815.6" r="6.4"/><circle cx="543.4" cy="815.1" r="6.4"/><circle cx="410.8" cy="824.8" r="6.4"/><circle cx="476.9" cy="865.1" r="6.4"/><circle cx="495.4" cy="869.9" r="6.4"/><circle cx="565.2" cy="856.4" r="6.4"/><circle cx="595.7" cy="875.9" r="6.4"/></g>
<g fill="#f4554f"><circle cx="251.4" cy="729.1" r="6.4"/><circle cx="359.5" cy="733.0" r="6.4"/><circle cx="380.2" cy="748.2" r="6.4"/><circle cx="374.2" cy="794.6" r="6.4"/><circle cx="386.3" cy="779.6" r="6.4"/><circle cx="468.3" cy="779.3" r="6.4"/><circle cx="438.3" cy="797.6" r="6.4"/><circle cx="528.9" cy="770.8" r="6.4"/><circle cx="480.1" cy="822.1" r="6.4"/><circle cx="451.3" cy="830.9" r="6.4"/><circle cx="435.1" cy="835.9" r="6.4"/></g>
<clipPath id="rcCmag"><path d="M251.4,685.8 L256.1,688.4 L260.8,690.9 L265.5,693.4 L270.2,696.0 L274.8,698.5 L279.5,701.0 L284.2,703.5 L288.9,706.0 L293.6,708.5 L298.3,710.9 L303.0,713.4 L307.7,715.8 L312.4,718.2 L317.1,720.6 L321.7,723.0 L326.4,725.3 L331.1,727.7 L335.8,729.9 L340.5,732.2 L345.2,734.4 L349.9,736.6 L354.6,738.8 L359.3,740.9 L364.0,743.0 L368.6,745.0 L373.3,747.0 L378.0,748.9 L382.7,750.7 L387.4,752.5 L392.1,754.2 L396.8,755.9 L401.5,757.5 L406.2,758.9 L410.9,760.4 L415.5,761.7 L420.2,763.0 L424.9,764.1 L429.6,765.2 L434.3,766.3 L439.0,767.2 L443.7,768.1 L448.4,769.0 L453.1,769.8 L457.8,770.5 L462.4,771.2 L467.1,771.8 L471.8,772.4 L476.5,772.9 L481.2,773.4 L485.9,773.9 L490.6,774.4 L495.3,774.8 L500.0,775.2 L504.7,775.5 L509.3,775.9 L514.0,776.2 L518.7,776.5 L523.4,776.8 L528.1,777.1 L528.1,857.1 L523.4,854.6 L518.7,852.2 L514.0,849.8 L509.3,847.4 L504.7,845.0 L500.0,842.6 L495.3,840.3 L490.6,837.9 L485.9,835.6 L481.2,833.4 L476.5,831.1 L471.8,829.0 L467.1,826.8 L462.4,824.7 L457.8,822.6 L453.1,820.6 L448.4,818.7 L443.7,816.8 L439.0,814.9 L434.3,813.1 L429.6,811.4 L424.9,809.8 L420.2,808.2 L415.5,806.8 L410.9,805.4 L406.2,804.0 L401.5,802.8 L396.8,801.6 L392.1,800.5 L387.4,799.5 L382.7,798.5 L378.0,797.7 L373.3,796.8 L368.6,796.1 L364.0,795.3 L359.3,794.7 L354.6,794.0 L349.9,793.5 L345.2,792.9 L340.5,792.4 L335.8,792.0 L331.1,791.5 L326.4,791.1 L321.7,790.7 L317.1,790.3 L312.4,790.0 L307.7,789.7 L303.0,789.4 L298.3,789.1 L293.6,788.8 L288.9,788.5 L284.2,788.3 L279.5,788.0 L274.8,787.8 L270.2,787.6 L265.5,787.4 L260.8,787.2 L256.1,787.0 L251.4,786.8Z"/></clipPath><path d="M251.4,685.8 L256.1,688.4 L260.8,690.9 L265.5,693.4 L270.2,696.0 L274.8,698.5 L279.5,701.0 L284.2,703.5 L288.9,706.0 L293.6,708.5 L298.3,710.9 L303.0,713.4 L307.7,715.8 L312.4,718.2 L317.1,720.6 L321.7,723.0 L326.4,725.3 L331.1,727.7 L335.8,729.9 L340.5,732.2 L345.2,734.4 L349.9,736.6 L354.6,738.8 L359.3,740.9 L364.0,743.0 L368.6,745.0 L373.3,747.0 L378.0,748.9 L382.7,750.7 L387.4,752.5 L392.1,754.2 L396.8,755.9 L401.5,757.5 L406.2,758.9 L410.9,760.4 L415.5,761.7 L420.2,763.0 L424.9,764.1 L429.6,765.2 L434.3,766.3 L439.0,767.2 L443.7,768.1 L448.4,769.0 L453.1,769.8 L457.8,770.5 L462.4,771.2 L467.1,771.8 L471.8,772.4 L476.5,772.9 L481.2,773.4 L485.9,773.9 L490.6,774.4 L495.3,774.8 L500.0,775.2 L504.7,775.5 L509.3,775.9 L514.0,776.2 L518.7,776.5 L523.4,776.8 L528.1,777.1 L528.1,857.1 L523.4,854.6 L518.7,852.2 L514.0,849.8 L509.3,847.4 L504.7,845.0 L500.0,842.6 L495.3,840.3 L490.6,837.9 L485.9,835.6 L481.2,833.4 L476.5,831.1 L471.8,829.0 L467.1,826.8 L462.4,824.7 L457.8,822.6 L453.1,820.6 L448.4,818.7 L443.7,816.8 L439.0,814.9 L434.3,813.1 L429.6,811.4 L424.9,809.8 L420.2,808.2 L415.5,806.8 L410.9,805.4 L406.2,804.0 L401.5,802.8 L396.8,801.6 L392.1,800.5 L387.4,799.5 L382.7,798.5 L378.0,797.7 L373.3,796.8 L368.6,796.1 L364.0,795.3 L359.3,794.7 L354.6,794.0 L349.9,793.5 L345.2,792.9 L340.5,792.4 L335.8,792.0 L331.1,791.5 L326.4,791.1 L321.7,790.7 L317.1,790.3 L312.4,790.0 L307.7,789.7 L303.0,789.4 L298.3,789.1 L293.6,788.8 L288.9,788.5 L284.2,788.3 L279.5,788.0 L274.8,787.8 L270.2,787.6 L265.5,787.4 L260.8,787.2 L256.1,787.0 L251.4,786.8Z" fill="#7e7e7e" fill-opacity="0.36"/>
<g clip-path="url(#rcCmag)" fill="#12b0b8" opacity="0.3"><circle cx="129.6" cy="598.6" r="6.4"/><circle cx="257.2" cy="523.8" r="6.4"/><circle cx="359.5" cy="592.1" r="6.4"/><circle cx="276.7" cy="615.6" r="6.4"/><circle cx="294.2" cy="626.9" r="6.4"/><circle cx="260.9" cy="638.9" r="6.4"/><circle cx="228.4" cy="662.1" r="6.4"/><circle cx="276.7" cy="672.6" r="6.4"/><circle cx="379.7" cy="665.5" r="6.4"/><circle cx="363.2" cy="677.1" r="6.4"/><circle cx="334.8" cy="689.4" r="6.4"/><circle cx="334.8" cy="700.2" r="6.4"/><circle cx="352.9" cy="705.9" r="6.4"/><circle cx="213.4" cy="696.4" r="6.4"/><circle cx="224.4" cy="703.2" r="6.4"/><circle cx="231.9" cy="718.4" r="6.4"/><circle cx="300.2" cy="709.1" r="6.4"/><circle cx="339.5" cy="719.7" r="6.4"/><circle cx="262.4" cy="722.0" r="6.4"/><circle cx="316.5" cy="733.4" r="6.4"/><circle cx="366.7" cy="751.0" r="6.4"/><circle cx="341.0" cy="760.8" r="6.4"/><circle cx="302.2" cy="771.3" r="6.4"/><circle cx="276.5" cy="774.6" r="6.4"/><circle cx="284.0" cy="774.6" r="6.4"/><circle cx="318.5" cy="799.6" r="6.4"/><circle cx="325.7" cy="819.6" r="6.4"/><circle cx="273.0" cy="851.6" r="6.4"/><circle cx="398.0" cy="635.4" r="6.4"/><circle cx="418.1" cy="655.4" r="6.4"/><circle cx="426.3" cy="656.4" r="6.4"/><circle cx="440.8" cy="672.1" r="6.4"/><circle cx="397.8" cy="685.9" r="6.4"/><circle cx="412.6" cy="696.4" r="6.4"/><circle cx="444.3" cy="690.4" r="6.4"/><circle cx="437.1" cy="701.7" r="6.4"/><circle cx="469.6" cy="689.4" r="6.4"/><circle cx="493.9" cy="696.2" r="6.4"/><circle cx="452.6" cy="703.2" r="6.4"/><circle cx="458.8" cy="710.2" r="6.4"/><circle cx="426.3" cy="716.6" r="6.4"/><circle cx="555.2" cy="715.7" r="6.4"/><circle cx="412.6" cy="733.1" r="6.4"/><circle cx="446.8" cy="734.1" r="6.4"/><circle cx="426.3" cy="742.8" r="6.4"/><circle cx="469.3" cy="739.2" r="6.4"/><circle cx="492.1" cy="746.8" r="6.4"/><circle cx="478.4" cy="749.1" r="6.4"/><circle cx="449.3" cy="750.1" r="6.4"/><circle cx="391.3" cy="786.8" r="6.4"/><circle cx="500.9" cy="815.6" r="6.4"/><circle cx="543.4" cy="815.1" r="6.4"/><circle cx="410.8" cy="824.8" r="6.4"/><circle cx="476.9" cy="865.1" r="6.4"/><circle cx="495.4" cy="869.9" r="6.4"/><circle cx="565.2" cy="856.4" r="6.4"/><circle cx="595.7" cy="875.9" r="6.4"/></g>
<line x1="251.4" y1="736.3" x2="528.1" y2="817.1" stroke="#f4554f" stroke-width="5.8"/>
<clipPath id="rcCoth"><path d="M129.6,599.6 L137.5,603.3 L145.4,607.0 L153.3,610.7 L161.2,614.4 L169.1,618.0 L176.9,621.7 L184.8,625.4 L192.7,629.0 L200.6,632.6 L208.5,636.2 L216.4,639.8 L224.3,643.4 L232.2,647.0 L240.1,650.5 L248.0,654.0 L255.9,657.5 L263.8,661.0 L271.6,664.4 L279.5,667.8 L287.4,671.2 L295.3,674.5 L303.2,677.7 L311.1,680.9 L319.0,684.0 L326.9,687.1 L334.8,690.1 L342.7,693.0 L350.6,695.8 L358.5,698.5 L366.3,701.1 L374.2,703.7 L382.1,706.1 L390.0,708.4 L397.9,710.7 L405.8,712.8 L413.7,714.9 L421.6,716.9 L429.5,718.8 L437.4,720.6 L445.3,722.4 L453.2,724.1 L461.0,725.8 L468.9,727.4 L476.8,729.0 L484.7,730.5 L492.6,732.0 L500.5,733.5 L508.4,735.0 L516.3,736.4 L524.2,737.8 L532.1,739.2 L540.0,740.6 L547.9,741.9 L555.7,743.3 L563.6,744.6 L571.5,745.9 L579.4,747.2 L587.3,748.5 L595.2,749.8 L595.2,832.8 L587.3,829.1 L579.4,825.4 L571.5,821.8 L563.6,818.1 L555.7,814.5 L547.9,810.9 L540.0,807.2 L532.1,803.6 L524.2,800.1 L516.3,796.5 L508.4,792.9 L500.5,789.4 L492.6,785.9 L484.7,782.5 L476.8,779.0 L468.9,775.6 L461.0,772.3 L453.2,769.0 L445.3,765.7 L437.4,762.5 L429.5,759.4 L421.6,756.3 L413.7,753.3 L405.8,750.4 L397.9,747.6 L390.0,744.9 L382.1,742.2 L374.2,739.7 L366.3,737.2 L358.5,734.9 L350.6,732.6 L342.7,730.5 L334.8,728.4 L326.9,726.4 L319.0,724.5 L311.1,722.7 L303.2,720.9 L295.3,719.2 L287.4,717.5 L279.5,715.9 L271.6,714.3 L263.8,712.7 L255.9,711.2 L248.0,709.7 L240.1,708.3 L232.2,706.9 L224.3,705.4 L216.4,704.1 L208.5,702.7 L200.6,701.3 L192.7,700.0 L184.8,698.6 L176.9,697.3 L169.1,696.0 L161.2,694.7 L153.3,693.4 L145.4,692.1 L137.5,690.9 L129.6,689.6Z"/></clipPath><path d="M129.6,599.6 L137.5,603.3 L145.4,607.0 L153.3,610.7 L161.2,614.4 L169.1,618.0 L176.9,621.7 L184.8,625.4 L192.7,629.0 L200.6,632.6 L208.5,636.2 L216.4,639.8 L224.3,643.4 L232.2,647.0 L240.1,650.5 L248.0,654.0 L255.9,657.5 L263.8,661.0 L271.6,664.4 L279.5,667.8 L287.4,671.2 L295.3,674.5 L303.2,677.7 L311.1,680.9 L319.0,684.0 L326.9,687.1 L334.8,690.1 L342.7,693.0 L350.6,695.8 L358.5,698.5 L366.3,701.1 L374.2,703.7 L382.1,706.1 L390.0,708.4 L397.9,710.7 L405.8,712.8 L413.7,714.9 L421.6,716.9 L429.5,718.8 L437.4,720.6 L445.3,722.4 L453.2,724.1 L461.0,725.8 L468.9,727.4 L476.8,729.0 L484.7,730.5 L492.6,732.0 L500.5,733.5 L508.4,735.0 L516.3,736.4 L524.2,737.8 L532.1,739.2 L540.0,740.6 L547.9,741.9 L555.7,743.3 L563.6,744.6 L571.5,745.9 L579.4,747.2 L587.3,748.5 L595.2,749.8 L595.2,832.8 L587.3,829.1 L579.4,825.4 L571.5,821.8 L563.6,818.1 L555.7,814.5 L547.9,810.9 L540.0,807.2 L532.1,803.6 L524.2,800.1 L516.3,796.5 L508.4,792.9 L500.5,789.4 L492.6,785.9 L484.7,782.5 L476.8,779.0 L468.9,775.6 L461.0,772.3 L453.2,769.0 L445.3,765.7 L437.4,762.5 L429.5,759.4 L421.6,756.3 L413.7,753.3 L405.8,750.4 L397.9,747.6 L390.0,744.9 L382.1,742.2 L374.2,739.7 L366.3,737.2 L358.5,734.9 L350.6,732.6 L342.7,730.5 L334.8,728.4 L326.9,726.4 L319.0,724.5 L311.1,722.7 L303.2,720.9 L295.3,719.2 L287.4,717.5 L279.5,715.9 L271.6,714.3 L263.8,712.7 L255.9,711.2 L248.0,709.7 L240.1,708.3 L232.2,706.9 L224.3,705.4 L216.4,704.1 L208.5,702.7 L200.6,701.3 L192.7,700.0 L184.8,698.6 L176.9,697.3 L169.1,696.0 L161.2,694.7 L153.3,693.4 L145.4,692.1 L137.5,690.9 L129.6,689.6Z" fill="#7e7e7e" fill-opacity="0.36"/>
<g clip-path="url(#rcCoth)" fill="#12b0b8" opacity="0.3"><circle cx="129.6" cy="598.6" r="6.4"/><circle cx="257.2" cy="523.8" r="6.4"/><circle cx="359.5" cy="592.1" r="6.4"/><circle cx="276.7" cy="615.6" r="6.4"/><circle cx="294.2" cy="626.9" r="6.4"/><circle cx="260.9" cy="638.9" r="6.4"/><circle cx="228.4" cy="662.1" r="6.4"/><circle cx="276.7" cy="672.6" r="6.4"/><circle cx="379.7" cy="665.5" r="6.4"/><circle cx="363.2" cy="677.1" r="6.4"/><circle cx="334.8" cy="689.4" r="6.4"/><circle cx="334.8" cy="700.2" r="6.4"/><circle cx="352.9" cy="705.9" r="6.4"/><circle cx="213.4" cy="696.4" r="6.4"/><circle cx="224.4" cy="703.2" r="6.4"/><circle cx="231.9" cy="718.4" r="6.4"/><circle cx="300.2" cy="709.1" r="6.4"/><circle cx="339.5" cy="719.7" r="6.4"/><circle cx="262.4" cy="722.0" r="6.4"/><circle cx="316.5" cy="733.4" r="6.4"/><circle cx="366.7" cy="751.0" r="6.4"/><circle cx="341.0" cy="760.8" r="6.4"/><circle cx="302.2" cy="771.3" r="6.4"/><circle cx="276.5" cy="774.6" r="6.4"/><circle cx="284.0" cy="774.6" r="6.4"/><circle cx="318.5" cy="799.6" r="6.4"/><circle cx="325.7" cy="819.6" r="6.4"/><circle cx="273.0" cy="851.6" r="6.4"/><circle cx="398.0" cy="635.4" r="6.4"/><circle cx="418.1" cy="655.4" r="6.4"/><circle cx="426.3" cy="656.4" r="6.4"/><circle cx="440.8" cy="672.1" r="6.4"/><circle cx="397.8" cy="685.9" r="6.4"/><circle cx="412.6" cy="696.4" r="6.4"/><circle cx="444.3" cy="690.4" r="6.4"/><circle cx="437.1" cy="701.7" r="6.4"/><circle cx="469.6" cy="689.4" r="6.4"/><circle cx="493.9" cy="696.2" r="6.4"/><circle cx="452.6" cy="703.2" r="6.4"/><circle cx="458.8" cy="710.2" r="6.4"/><circle cx="426.3" cy="716.6" r="6.4"/><circle cx="555.2" cy="715.7" r="6.4"/><circle cx="412.6" cy="733.1" r="6.4"/><circle cx="446.8" cy="734.1" r="6.4"/><circle cx="426.3" cy="742.8" r="6.4"/><circle cx="469.3" cy="739.2" r="6.4"/><circle cx="492.1" cy="746.8" r="6.4"/><circle cx="478.4" cy="749.1" r="6.4"/><circle cx="449.3" cy="750.1" r="6.4"/><circle cx="391.3" cy="786.8" r="6.4"/><circle cx="500.9" cy="815.6" r="6.4"/><circle cx="543.4" cy="815.1" r="6.4"/><circle cx="410.8" cy="824.8" r="6.4"/><circle cx="476.9" cy="865.1" r="6.4"/><circle cx="495.4" cy="869.9" r="6.4"/><circle cx="565.2" cy="856.4" r="6.4"/><circle cx="595.7" cy="875.9" r="6.4"/></g>
<line x1="129.6" y1="644.6" x2="595.2" y2="791.3" stroke="#12b0b8" stroke-width="5.8"/>
</g>
<rect x="100.6" y="507" width="656.7" height="385.1" fill="none" stroke="#707070" stroke-width="2.6" stroke-linejoin="round"/>
<path d="M92.4,570.6H99.6M92.4,638.6H99.6M92.4,706.5H99.6M92.4,774.4H99.6M92.4,842.4H99.6M107.6,893.1V900.3M332.4,893.1V900.3M557.7,893.1V900.3" stroke="#4a4a4a" stroke-width="2.8" fill="none"/>
<text class="tk" x="86.4" y="579.5" text-anchor="end">0.8</text><text class="tk" x="86.4" y="647.5" text-anchor="end">0.7</text><text class="tk" x="86.4" y="715.4" text-anchor="end">0.6</text><text class="tk" x="86.4" y="783.3" text-anchor="end">0.5</text><text class="tk" x="86.4" y="851.3" text-anchor="end">0.4</text><text class="tk" x="107.6" y="925.1" text-anchor="middle">6</text><text class="tk" x="332.4" y="925.1" text-anchor="middle">8</text><text class="tk" x="557.7" y="925.1" text-anchor="middle">10</text>
<text class="ti" x="428.9" y="958.5" text-anchor="middle">Leaf Area (log)</text>
<text class="ti" transform="translate(38.3,701.0) rotate(-90)" text-anchor="middle">SSD</text>
<text class="tg" x="16.2" y="527.6">C</text>
</g>
<g id="panelD">
<clipPath id="clipD"><rect x="864.4" y="507" width="663.6" height="385.1"/></clipPath>
<g clip-path="url(#clipD)">
<path d="M864.4,574.3H1528M864.4,677.8H1528M864.4,781.3H1528M864.4,884.8H1528M985.2,507V892.1M1212.9,507V892.1M1439.7,507V892.1" stroke="#f1f1f1" stroke-width="1.5" fill="none"/>
<path d="M864.4,522.5H1528M864.4,626H1528M864.4,729.6H1528M864.4,833H1528M871.3,507V892.1M1099,507V892.1M1326.5,507V892.1" stroke="#e9e9e9" stroke-width="2.8" fill="none"/>
<g fill="#f4554f"><circle cx="1200.0" cy="714.4" r="6.4"/><circle cx="1127.8" cy="795.1" r="6.4"/></g>
<g fill="#12b0b8"><circle cx="930.9" cy="582.6" r="6.4"/><circle cx="1022.6" cy="596.9" r="6.4"/><circle cx="1038.9" cy="601.6" r="6.4"/><circle cx="1053.2" cy="644.6" r="6.4"/><circle cx="1042.7" cy="651.6" r="6.4"/><circle cx="1133.6" cy="647.6" r="6.4"/><circle cx="996.9" cy="681.4" r="6.4"/><circle cx="990.2" cy="696.7" r="6.4"/><circle cx="993.9" cy="711.9" r="6.4"/><circle cx="1042.7" cy="706.4" r="6.4"/><circle cx="1082.7" cy="702.6" r="6.4"/><circle cx="1092.2" cy="710.1" r="6.4"/><circle cx="1103.5" cy="696.4" r="6.4"/><circle cx="1106.0" cy="707.6" r="6.4"/><circle cx="1146.6" cy="696.8" r="6.4"/><circle cx="1068.2" cy="726.4" r="6.4"/><circle cx="1107.3" cy="734.8" r="6.4"/><circle cx="1028.2" cy="748.3" r="6.4"/><circle cx="1059.7" cy="746.7" r="6.4"/><circle cx="893.8" cy="816.3" r="6.4"/><circle cx="978.4" cy="803.8" r="6.4"/><circle cx="1026.4" cy="814.3" r="6.4"/><circle cx="1042.2" cy="821.3" r="6.4"/><circle cx="1049.7" cy="812.1" r="6.4"/><circle cx="1066.2" cy="771.8" r="6.4"/><circle cx="1084.7" cy="777.6" r="6.4"/><circle cx="1100.7" cy="793.1" r="6.4"/><circle cx="1100.7" cy="821.8" r="6.4"/><circle cx="1119.3" cy="784.6" r="6.4"/><circle cx="1125.8" cy="801.3" r="6.4"/><circle cx="1134.0" cy="806.3" r="6.4"/><circle cx="1129.8" cy="814.5" r="6.4"/><circle cx="1269.4" cy="523.8" r="6.4"/><circle cx="1187.0" cy="586.3" r="6.4"/><circle cx="1193.3" cy="624.4" r="6.4"/><circle cx="1229.6" cy="625.1" r="6.4"/><circle cx="1226.3" cy="635.6" r="6.4"/><circle cx="1244.6" cy="638.6" r="6.4"/><circle cx="1178.0" cy="652.9" r="6.4"/><circle cx="1208.1" cy="663.4" r="6.4"/><circle cx="1220.1" cy="670.9" r="6.4"/><circle cx="1263.4" cy="663.9" r="6.4"/><circle cx="1364.7" cy="661.4" r="6.4"/><circle cx="1185.5" cy="680.9" r="6.4"/><circle cx="1179.6" cy="717.6" r="6.4"/><circle cx="1203.8" cy="714.3" r="6.4"/><circle cx="1165.0" cy="725.1" r="6.4"/><circle cx="1180.0" cy="739.1" r="6.4"/><circle cx="1220.1" cy="735.1" r="6.4"/><circle cx="1323.4" cy="728.8" r="6.4"/><circle cx="1333.9" cy="745.8" r="6.4"/><circle cx="1311.4" cy="752.6" r="6.4"/><circle cx="1179.5" cy="763.3" r="6.4"/><circle cx="1158.3" cy="767.0" r="6.4"/><circle cx="1162.5" cy="778.1" r="6.4"/><circle cx="1192.5" cy="771.8" r="6.4"/><circle cx="1192.5" cy="778.8" r="6.4"/><circle cx="1213.8" cy="774.3" r="6.4"/><circle cx="1211.3" cy="783.8" r="6.4"/><circle cx="1237.1" cy="766.3" r="6.4"/><circle cx="1237.1" cy="778.1" r="6.4"/><circle cx="1246.3" cy="775.8" r="6.4"/><circle cx="1251.8" cy="785.1" r="6.4"/><circle cx="1262.1" cy="788.1" r="6.4"/><circle cx="1165.0" cy="828.8" r="6.4"/><circle cx="1196.8" cy="819.6" r="6.4"/><circle cx="1259.6" cy="822.1" r="6.4"/></g>
<g fill="#f4554f"><circle cx="1016.6" cy="618.5" r="6.4"/><circle cx="1031.8" cy="623.6" r="6.4"/><circle cx="1141.1" cy="653.1" r="6.4"/><circle cx="1125.8" cy="690.9" r="6.4"/><circle cx="1147.3" cy="743.5" r="6.4"/><circle cx="1153.5" cy="716.5" r="6.4"/><circle cx="1205.8" cy="680.1" r="6.4"/><circle cx="1297.1" cy="691.7" r="6.4"/><circle cx="1497.8" cy="705.6" r="6.4"/><circle cx="1399.5" cy="745.8" r="6.4"/><circle cx="1218.8" cy="719.6" r="6.4"/><circle cx="1248.1" cy="803.8" r="6.4"/><circle cx="1167.0" cy="814.6" r="6.4"/><circle cx="1225.8" cy="830.6" r="6.4"/><circle cx="1235.8" cy="829.6" r="6.4"/></g>
<clipPath id="rcDmag"><path d="M1017.2,630.6 L1025.3,634.1 L1033.5,637.6 L1041.6,641.0 L1049.8,644.5 L1057.9,647.9 L1066.0,651.2 L1074.2,654.5 L1082.3,657.8 L1090.5,661.0 L1098.6,664.1 L1106.7,667.2 L1114.9,670.2 L1123.0,673.1 L1131.2,675.9 L1139.3,678.6 L1147.5,681.2 L1155.6,683.6 L1163.7,686.0 L1171.9,688.2 L1180.0,690.2 L1188.2,692.0 L1196.3,693.7 L1204.4,695.2 L1212.6,696.5 L1220.7,697.7 L1228.9,698.7 L1237.0,699.5 L1245.1,700.2 L1253.3,700.7 L1261.4,701.1 L1269.6,701.3 L1277.7,701.4 L1285.8,701.5 L1294.0,701.4 L1302.1,701.3 L1310.3,701.1 L1318.4,700.8 L1326.5,700.4 L1334.7,700.0 L1342.8,699.6 L1351.0,699.1 L1359.1,698.5 L1367.2,697.9 L1375.4,697.3 L1383.5,696.7 L1391.7,696.0 L1399.8,695.3 L1408.0,694.6 L1416.1,693.9 L1424.2,693.1 L1432.4,692.4 L1440.5,691.6 L1448.7,690.8 L1456.8,690.0 L1464.9,689.2 L1473.1,688.3 L1481.2,687.5 L1489.4,686.6 L1497.5,685.8 L1497.5,875.4 L1489.4,871.7 L1481.2,868.0 L1473.1,864.3 L1464.9,860.6 L1456.8,856.9 L1448.7,853.3 L1440.5,849.6 L1432.4,846.0 L1424.2,842.4 L1416.1,838.8 L1408.0,835.2 L1399.8,831.6 L1391.7,828.1 L1383.5,824.5 L1375.4,821.1 L1367.2,817.6 L1359.1,814.2 L1351.0,810.8 L1342.8,807.4 L1334.7,804.1 L1326.5,800.8 L1318.4,797.6 L1310.3,794.5 L1302.1,791.4 L1294.0,788.4 L1285.8,785.5 L1277.7,782.7 L1269.6,780.0 L1261.4,777.4 L1253.3,774.9 L1245.1,772.6 L1237.0,770.4 L1228.9,768.3 L1220.7,766.5 L1212.6,764.8 L1204.4,763.2 L1196.3,761.9 L1188.2,760.7 L1180.0,759.7 L1171.9,758.9 L1163.7,758.2 L1155.6,757.7 L1147.5,757.3 L1139.3,757.0 L1131.2,756.9 L1123.0,756.8 L1114.9,756.9 L1106.7,757.0 L1098.6,757.2 L1090.5,757.5 L1082.3,757.9 L1074.2,758.3 L1066.0,758.7 L1057.9,759.2 L1049.8,759.7 L1041.6,760.3 L1033.5,760.9 L1025.3,761.6 L1017.2,762.2Z"/></clipPath><path d="M1017.2,630.6 L1025.3,634.1 L1033.5,637.6 L1041.6,641.0 L1049.8,644.5 L1057.9,647.9 L1066.0,651.2 L1074.2,654.5 L1082.3,657.8 L1090.5,661.0 L1098.6,664.1 L1106.7,667.2 L1114.9,670.2 L1123.0,673.1 L1131.2,675.9 L1139.3,678.6 L1147.5,681.2 L1155.6,683.6 L1163.7,686.0 L1171.9,688.2 L1180.0,690.2 L1188.2,692.0 L1196.3,693.7 L1204.4,695.2 L1212.6,696.5 L1220.7,697.7 L1228.9,698.7 L1237.0,699.5 L1245.1,700.2 L1253.3,700.7 L1261.4,701.1 L1269.6,701.3 L1277.7,701.4 L1285.8,701.5 L1294.0,701.4 L1302.1,701.3 L1310.3,701.1 L1318.4,700.8 L1326.5,700.4 L1334.7,700.0 L1342.8,699.6 L1351.0,699.1 L1359.1,698.5 L1367.2,697.9 L1375.4,697.3 L1383.5,696.7 L1391.7,696.0 L1399.8,695.3 L1408.0,694.6 L1416.1,693.9 L1424.2,693.1 L1432.4,692.4 L1440.5,691.6 L1448.7,690.8 L1456.8,690.0 L1464.9,689.2 L1473.1,688.3 L1481.2,687.5 L1489.4,686.6 L1497.5,685.8 L1497.5,875.4 L1489.4,871.7 L1481.2,868.0 L1473.1,864.3 L1464.9,860.6 L1456.8,856.9 L1448.7,853.3 L1440.5,849.6 L1432.4,846.0 L1424.2,842.4 L1416.1,838.8 L1408.0,835.2 L1399.8,831.6 L1391.7,828.1 L1383.5,824.5 L1375.4,821.1 L1367.2,817.6 L1359.1,814.2 L1351.0,810.8 L1342.8,807.4 L1334.7,804.1 L1326.5,800.8 L1318.4,797.6 L1310.3,794.5 L1302.1,791.4 L1294.0,788.4 L1285.8,785.5 L1277.7,782.7 L1269.6,780.0 L1261.4,777.4 L1253.3,774.9 L1245.1,772.6 L1237.0,770.4 L1228.9,768.3 L1220.7,766.5 L1212.6,764.8 L1204.4,763.2 L1196.3,761.9 L1188.2,760.7 L1180.0,759.7 L1171.9,758.9 L1163.7,758.2 L1155.6,757.7 L1147.5,757.3 L1139.3,757.0 L1131.2,756.9 L1123.0,756.8 L1114.9,756.9 L1106.7,757.0 L1098.6,757.2 L1090.5,757.5 L1082.3,757.9 L1074.2,758.3 L1066.0,758.7 L1057.9,759.2 L1049.8,759.7 L1041.6,760.3 L1033.5,760.9 L1025.3,761.6 L1017.2,762.2Z" fill="#7e7e7e" fill-opacity="0.36"/>
<g clip-path="url(#rcDmag)" fill="#12b0b8" opacity="0.3"><circle cx="930.9" cy="582.6" r="6.4"/><circle cx="1022.6" cy="596.9" r="6.4"/><circle cx="1038.9" cy="601.6" r="6.4"/><circle cx="1053.2" cy="644.6" r="6.4"/><circle cx="1042.7" cy="651.6" r="6.4"/><circle cx="1133.6" cy="647.6" r="6.4"/><circle cx="996.9" cy="681.4" r="6.4"/><circle cx="990.2" cy="696.7" r="6.4"/><circle cx="993.9" cy="711.9" r="6.4"/><circle cx="1042.7" cy="706.4" r="6.4"/><circle cx="1082.7" cy="702.6" r="6.4"/><circle cx="1092.2" cy="710.1" r="6.4"/><circle cx="1103.5" cy="696.4" r="6.4"/><circle cx="1106.0" cy="707.6" r="6.4"/><circle cx="1146.6" cy="696.8" r="6.4"/><circle cx="1068.2" cy="726.4" r="6.4"/><circle cx="1107.3" cy="734.8" r="6.4"/><circle cx="1028.2" cy="748.3" r="6.4"/><circle cx="1059.7" cy="746.7" r="6.4"/><circle cx="893.8" cy="816.3" r="6.4"/><circle cx="978.4" cy="803.8" r="6.4"/><circle cx="1026.4" cy="814.3" r="6.4"/><circle cx="1042.2" cy="821.3" r="6.4"/><circle cx="1049.7" cy="812.1" r="6.4"/><circle cx="1066.2" cy="771.8" r="6.4"/><circle cx="1084.7" cy="777.6" r="6.4"/><circle cx="1100.7" cy="793.1" r="6.4"/><circle cx="1100.7" cy="821.8" r="6.4"/><circle cx="1119.3" cy="784.6" r="6.4"/><circle cx="1125.8" cy="801.3" r="6.4"/><circle cx="1134.0" cy="806.3" r="6.4"/><circle cx="1129.8" cy="814.5" r="6.4"/><circle cx="1269.4" cy="523.8" r="6.4"/><circle cx="1187.0" cy="586.3" r="6.4"/><circle cx="1193.3" cy="624.4" r="6.4"/><circle cx="1229.6" cy="625.1" r="6.4"/><circle cx="1226.3" cy="635.6" r="6.4"/><circle cx="1244.6" cy="638.6" r="6.4"/><circle cx="1178.0" cy="652.9" r="6.4"/><circle cx="1208.1" cy="663.4" r="6.4"/><circle cx="1220.1" cy="670.9" r="6.4"/><circle cx="1263.4" cy="663.9" r="6.4"/><circle cx="1364.7" cy="661.4" r="6.4"/><circle cx="1185.5" cy="680.9" r="6.4"/><circle cx="1179.6" cy="717.6" r="6.4"/><circle cx="1203.8" cy="714.3" r="6.4"/><circle cx="1165.0" cy="725.1" r="6.4"/><circle cx="1180.0" cy="739.1" r="6.4"/><circle cx="1220.1" cy="735.1" r="6.4"/><circle cx="1323.4" cy="728.8" r="6.4"/><circle cx="1333.9" cy="745.8" r="6.4"/><circle cx="1311.4" cy="752.6" r="6.4"/><circle cx="1179.5" cy="763.3" r="6.4"/><circle cx="1158.3" cy="767.0" r="6.4"/><circle cx="1162.5" cy="778.1" r="6.4"/><circle cx="1192.5" cy="771.8" r="6.4"/><circle cx="1192.5" cy="778.8" r="6.4"/><circle cx="1213.8" cy="774.3" r="6.4"/><circle cx="1211.3" cy="783.8" r="6.4"/><circle cx="1237.1" cy="766.3" r="6.4"/><circle cx="1237.1" cy="778.1" r="6.4"/><circle cx="1246.3" cy="775.8" r="6.4"/><circle cx="1251.8" cy="785.1" r="6.4"/><circle cx="1262.1" cy="788.1" r="6.4"/><circle cx="1165.0" cy="828.8" r="6.4"/><circle cx="1196.8" cy="819.6" r="6.4"/><circle cx="1259.6" cy="822.1" r="6.4"/></g>
<line x1="1017.2" y1="696.4" x2="1497.5" y2="780.6" stroke="#f4554f" stroke-width="5.8"/>
<clipPath id="rcDoth"><path d="M894.3,686.9 L902.3,688.0 L910.2,689.0 L918.2,690.1 L926.2,691.1 L934.1,692.1 L942.1,693.2 L950.1,694.2 L958.0,695.2 L966.0,696.2 L974.0,697.2 L981.9,698.2 L989.9,699.1 L997.9,700.1 L1005.8,701.0 L1013.8,701.9 L1021.8,702.8 L1029.8,703.6 L1037.7,704.4 L1045.7,705.2 L1053.7,706.0 L1061.6,706.7 L1069.6,707.4 L1077.6,708.0 L1085.5,708.5 L1093.5,709.0 L1101.5,709.4 L1109.4,709.8 L1117.4,710.0 L1125.4,710.2 L1133.3,710.2 L1141.3,710.1 L1149.3,710.0 L1157.2,709.7 L1165.2,709.3 L1173.2,708.8 L1181.1,708.2 L1189.1,707.5 L1197.1,706.7 L1205.0,705.8 L1213.0,704.9 L1221.0,703.9 L1228.9,702.8 L1236.9,701.7 L1244.9,700.5 L1252.9,699.3 L1260.8,698.1 L1268.8,696.8 L1276.8,695.5 L1284.7,694.2 L1292.7,692.9 L1300.7,691.5 L1308.6,690.1 L1316.6,688.7 L1324.6,687.3 L1332.5,685.9 L1340.5,684.5 L1348.5,683.0 L1356.4,681.6 L1364.4,680.1 L1364.4,762.1 L1356.4,761.1 L1348.5,760.0 L1340.5,759.0 L1332.5,758.0 L1324.6,757.0 L1316.6,756.1 L1308.6,755.1 L1300.7,754.2 L1292.7,753.2 L1284.7,752.3 L1276.8,751.4 L1268.8,750.6 L1260.8,749.7 L1252.9,748.9 L1244.9,748.2 L1236.9,747.4 L1228.9,746.8 L1221.0,746.1 L1213.0,745.6 L1205.0,745.1 L1197.1,744.6 L1189.1,744.3 L1181.1,744.0 L1173.2,743.8 L1165.2,743.8 L1157.2,743.8 L1149.3,744.0 L1141.3,744.2 L1133.3,744.6 L1125.4,745.1 L1117.4,745.6 L1109.4,746.3 L1101.5,747.1 L1093.5,747.9 L1085.5,748.8 L1077.6,749.8 L1069.6,750.9 L1061.6,752.0 L1053.7,753.1 L1045.7,754.3 L1037.7,755.5 L1029.8,756.8 L1021.8,758.1 L1013.8,759.4 L1005.8,760.7 L997.9,762.1 L989.9,763.5 L981.9,764.9 L974.0,766.3 L966.0,767.7 L958.0,769.1 L950.1,770.6 L942.1,772.0 L934.1,773.5 L926.2,775.0 L918.2,776.4 L910.2,777.9 L902.3,779.4 L894.3,780.9Z"/></clipPath><path d="M894.3,686.9 L902.3,688.0 L910.2,689.0 L918.2,690.1 L926.2,691.1 L934.1,692.1 L942.1,693.2 L950.1,694.2 L958.0,695.2 L966.0,696.2 L974.0,697.2 L981.9,698.2 L989.9,699.1 L997.9,700.1 L1005.8,701.0 L1013.8,701.9 L1021.8,702.8 L1029.8,703.6 L1037.7,704.4 L1045.7,705.2 L1053.7,706.0 L1061.6,706.7 L1069.6,707.4 L1077.6,708.0 L1085.5,708.5 L1093.5,709.0 L1101.5,709.4 L1109.4,709.8 L1117.4,710.0 L1125.4,710.2 L1133.3,710.2 L1141.3,710.1 L1149.3,710.0 L1157.2,709.7 L1165.2,709.3 L1173.2,708.8 L1181.1,708.2 L1189.1,707.5 L1197.1,706.7 L1205.0,705.8 L1213.0,704.9 L1221.0,703.9 L1228.9,702.8 L1236.9,701.7 L1244.9,700.5 L1252.9,699.3 L1260.8,698.1 L1268.8,696.8 L1276.8,695.5 L1284.7,694.2 L1292.7,692.9 L1300.7,691.5 L1308.6,690.1 L1316.6,688.7 L1324.6,687.3 L1332.5,685.9 L1340.5,684.5 L1348.5,683.0 L1356.4,681.6 L1364.4,680.1 L1364.4,762.1 L1356.4,761.1 L1348.5,760.0 L1340.5,759.0 L1332.5,758.0 L1324.6,757.0 L1316.6,756.1 L1308.6,755.1 L1300.7,754.2 L1292.7,753.2 L1284.7,752.3 L1276.8,751.4 L1268.8,750.6 L1260.8,749.7 L1252.9,748.9 L1244.9,748.2 L1236.9,747.4 L1228.9,746.8 L1221.0,746.1 L1213.0,745.6 L1205.0,745.1 L1197.1,744.6 L1189.1,744.3 L1181.1,744.0 L1173.2,743.8 L1165.2,743.8 L1157.2,743.8 L1149.3,744.0 L1141.3,744.2 L1133.3,744.6 L1125.4,745.1 L1117.4,745.6 L1109.4,746.3 L1101.5,747.1 L1093.5,747.9 L1085.5,748.8 L1077.6,749.8 L1069.6,750.9 L1061.6,752.0 L1053.7,753.1 L1045.7,754.3 L1037.7,755.5 L1029.8,756.8 L1021.8,758.1 L1013.8,759.4 L1005.8,760.7 L997.9,762.1 L989.9,763.5 L981.9,764.9 L974.0,766.3 L966.0,767.7 L958.0,769.1 L950.1,770.6 L942.1,772.0 L934.1,773.5 L926.2,775.0 L918.2,776.4 L910.2,777.9 L902.3,779.4 L894.3,780.9Z" fill="#7e7e7e" fill-opacity="0.36"/>
<g clip-path="url(#rcDoth)" fill="#12b0b8" opacity="0.3"><circle cx="930.9" cy="582.6" r="6.4"/><circle cx="1022.6" cy="596.9" r="6.4"/><circle cx="1038.9" cy="601.6" r="6.4"/><circle cx="1053.2" cy="644.6" r="6.4"/><circle cx="1042.7" cy="651.6" r="6.4"/><circle cx="1133.6" cy="647.6" r="6.4"/><circle cx="996.9" cy="681.4" r="6.4"/><circle cx="990.2" cy="696.7" r="6.4"/><circle cx="993.9" cy="711.9" r="6.4"/><circle cx="1042.7" cy="706.4" r="6.4"/><circle cx="1082.7" cy="702.6" r="6.4"/><circle cx="1092.2" cy="710.1" r="6.4"/><circle cx="1103.5" cy="696.4" r="6.4"/><circle cx="1106.0" cy="707.6" r="6.4"/><circle cx="1146.6" cy="696.8" r="6.4"/><circle cx="1068.2" cy="726.4" r="6.4"/><circle cx="1107.3" cy="734.8" r="6.4"/><circle cx="1028.2" cy="748.3" r="6.4"/><circle cx="1059.7" cy="746.7" r="6.4"/><circle cx="893.8" cy="816.3" r="6.4"/><circle cx="978.4" cy="803.8" r="6.4"/><circle cx="1026.4" cy="814.3" r="6.4"/><circle cx="1042.2" cy="821.3" r="6.4"/><circle cx="1049.7" cy="812.1" r="6.4"/><circle cx="1066.2" cy="771.8" r="6.4"/><circle cx="1084.7" cy="777.6" r="6.4"/><circle cx="1100.7" cy="793.1" r="6.4"/><circle cx="1100.7" cy="821.8" r="6.4"/><circle cx="1119.3" cy="784.6" r="6.4"/><circle cx="1125.8" cy="801.3" r="6.4"/><circle cx="1134.0" cy="806.3" r="6.4"/><circle cx="1129.8" cy="814.5" r="6.4"/><circle cx="1269.4" cy="523.8" r="6.4"/><circle cx="1187.0" cy="586.3" r="6.4"/><circle cx="1193.3" cy="624.4" r="6.4"/><circle cx="1229.6" cy="625.1" r="6.4"/><circle cx="1226.3" cy="635.6" r="6.4"/><circle cx="1244.6" cy="638.6" r="6.4"/><circle cx="1178.0" cy="652.9" r="6.4"/><circle cx="1208.1" cy="663.4" r="6.4"/><circle cx="1220.1" cy="670.9" r="6.4"/><circle cx="1263.4" cy="663.9" r="6.4"/><circle cx="1364.7" cy="661.4" r="6.4"/><circle cx="1185.5" cy="680.9" r="6.4"/><circle cx="1179.6" cy="717.6" r="6.4"/><circle cx="1203.8" cy="714.3" r="6.4"/><circle cx="1165.0" cy="725.1" r="6.4"/><circle cx="1180.0" cy="739.1" r="6.4"/><circle cx="1220.1" cy="735.1" r="6.4"/><circle cx="1323.4" cy="728.8" r="6.4"/><circle cx="1333.9" cy="745.8" r="6.4"/><circle cx="1311.4" cy="752.6" r="6.4"/><circle cx="1179.5" cy="763.3" r="6.4"/><circle cx="1158.3" cy="767.0" r="6.4"/><circle cx="1162.5" cy="778.1" r="6.4"/><circle cx="1192.5" cy="771.8" r="6.4"/><circle cx="1192.5" cy="778.8" r="6.4"/><circle cx="1213.8" cy="774.3" r="6.4"/><circle cx="1211.3" cy="783.8" r="6.4"/><circle cx="1237.1" cy="766.3" r="6.4"/><circle cx="1237.1" cy="778.1" r="6.4"/><circle cx="1246.3" cy="775.8" r="6.4"/><circle cx="1251.8" cy="785.1" r="6.4"/><circle cx="1262.1" cy="788.1" r="6.4"/><circle cx="1165.0" cy="828.8" r="6.4"/><circle cx="1196.8" cy="819.6" r="6.4"/><circle cx="1259.6" cy="822.1" r="6.4"/></g>
<line x1="894.3" y1="733.9" x2="1364.4" y2="721.1" stroke="#12b0b8" stroke-width="5.8"/>
</g>
<rect x="864.4" y="507" width="663.6" height="385.1" fill="none" stroke="#707070" stroke-width="2.6" stroke-linejoin="round"/>
<path d="M856.2,522.5H863.4M856.2,626H863.4M856.2,729.6H863.4M856.2,833H863.4M871.3,893.1V900.3M1099,893.1V900.3M1326.5,893.1V900.3" stroke="#4a4a4a" stroke-width="2.8" fill="none"/>
<text class="tk" x="850.2" y="531.4" text-anchor="end">40</text><text class="tk" x="850.2" y="634.9" text-anchor="end">30</text><text class="tk" x="850.2" y="738.5" text-anchor="end">20</text><text class="tk" x="850.2" y="841.9" text-anchor="end">10</text><text class="tk" x="871.3" y="925.1" text-anchor="middle">6</text><text class="tk" x="1099" y="925.1" text-anchor="middle">8</text><text class="tk" x="1326.5" y="925.1" text-anchor="middle">10</text>
<text class="ti" x="1196.2" y="958.5" text-anchor="middle">Leaf Area (log)</text>
<text class="ti" transform="translate(808.5,701.0) rotate(-90)" text-anchor="middle">SLA</text>
<text class="tg" x="787.7" y="527.6">D</text>
</g>
<g id="legend">
<text class="ti" x="571" y="1029.6">Genus</text>
<rect x="676.3" y="996.6" width="46.6" height="46.6" fill="#cfcfcf"/><line x1="680.3" y1="1019.6" x2="718.5999999999999" y2="1019.6" stroke="#f4554f" stroke-width="5.8"/><circle cx="699.3" cy="1019.6" r="6.4" fill="#cf6464"/><text class="lg" x="737.5" y="1028.8">Magnolia</text>
<rect x="851" y="996.6" width="46.6" height="46.6" fill="#cfcfcf"/><line x1="855" y1="1019.6" x2="893.3" y2="1019.6" stroke="#12b0b8" stroke-width="5.8"/><circle cx="874.0" cy="1019.6" r="6.4" fill="#36a4a9"/><text class="lg" x="912.5" y="1028.8">Other</text>
</g>
</g>
</svg>
</body></html>
